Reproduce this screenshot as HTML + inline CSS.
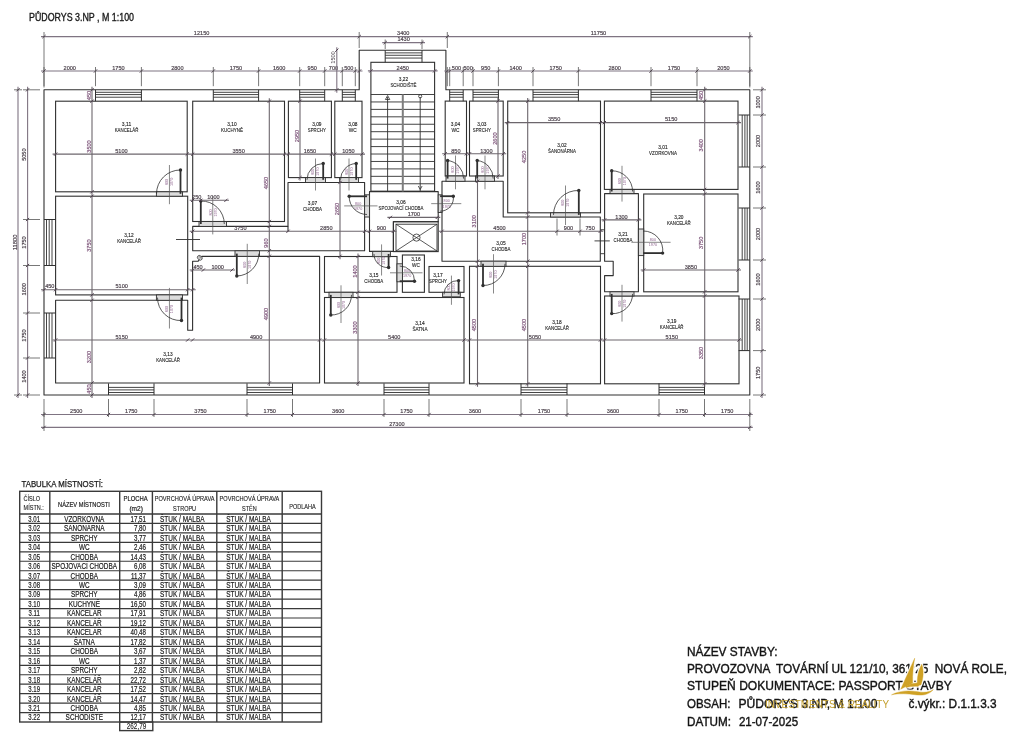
<!DOCTYPE html>
<html><head><meta charset="utf-8"><title>Pudorys 3.NP</title>
<style>
html,body{margin:0;padding:0;background:#fff;}
body{width:1024px;height:735px;overflow:hidden;font-family:"Liberation Sans",sans-serif;}
svg{display:block;will-change:transform;}
text{white-space:pre;}
</style></head><body>
<svg width="1024" height="735" viewBox="0 0 1024 735" font-family="Liberation Sans, sans-serif">
<text x="29" y="20.8" font-size="10.4" text-anchor="start" fill="#1a1a1a" stroke="#1a1a1a" stroke-width="0.35" textLength="105" lengthAdjust="spacingAndGlyphs">PŮDORYS 3.NP , M 1:100</text>
<polygon points="44,89.8 359.2,89.8 359.2,50.2 445.9,50.2 445.9,89.8 749.8,89.8 749.8,395 44,395" stroke="#303030" stroke-width="1.1" fill="none" stroke-linejoin="round"/>
<rect x="55.6" y="101.2" width="131.6" height="90.6" stroke="#303030" stroke-width="1.1" fill="none"/>
<rect x="55.6" y="196.2" width="132.1" height="98.7" stroke="#303030" stroke-width="1.1" fill="none"/>
<rect x="192.7" y="101.2" width="91.8" height="120.3" stroke="#303030" stroke-width="1.1" fill="none"/>
<rect x="288.4" y="101.2" width="43" height="76.4" stroke="#303030" stroke-width="1.1" fill="none"/>
<rect x="334.8" y="101.2" width="27.2" height="76.4" stroke="#303030" stroke-width="1.1" fill="none"/>
<rect x="370.9" y="62.3" width="63.7" height="129.1" stroke="#303030" stroke-width="1.1" fill="none"/>
<rect x="445.2" y="101.1" width="21.3" height="74.9" stroke="#303030" stroke-width="1.1" fill="none"/>
<rect x="469.5" y="101.1" width="33.7" height="74.9" stroke="#303030" stroke-width="1.1" fill="none"/>
<rect x="507.7" y="101.1" width="92.8" height="111.7" stroke="#303030" stroke-width="1.1" fill="none"/>
<rect x="604.4" y="101.1" width="133.6" height="88.3" stroke="#303030" stroke-width="1.1" fill="none"/>
<rect x="643.7" y="194" width="94.3" height="97.8" stroke="#303030" stroke-width="1.1" fill="none"/>
<rect x="604.6" y="296" width="134.4" height="87.8" stroke="#303030" stroke-width="1.1" fill="none"/>
<rect x="469.5" y="266.3" width="131" height="117.5" stroke="#303030" stroke-width="1.1" fill="none"/>
<rect x="324.5" y="297.5" width="139.5" height="85.5" stroke="#303030" stroke-width="1.1" fill="none"/>
<rect x="324.5" y="256.5" width="72.5" height="35.8" stroke="#303030" stroke-width="1.1" fill="none"/>
<rect x="402.4" y="255" width="22" height="37.3" stroke="#303030" stroke-width="1.1" fill="none"/>
<rect x="429" y="266.5" width="35" height="25.8" stroke="#303030" stroke-width="1.1" fill="none"/>
<polygon points="55.6,300.3 187.7,300.3 187.7,330.2 192.6,330.2 192.6,261.2 198.2,261.2 201.8,256.4 319.6,256.4 319.6,383 55.6,383" stroke="#303030" stroke-width="1.1" fill="none" stroke-linejoin="round"/>
<polygon points="192.7,226.4 288,226.4 288,182.5 364.6,182.5 364.6,250.8 192.7,250.8" stroke="#303030" stroke-width="1.1" fill="none" stroke-linejoin="round"/>
<line x1="288" y1="226.4" x2="288" y2="231.3" stroke="#303030" stroke-width="1.1"/>
<polygon points="369.5,191.6 438.2,191.6 438.2,221.7 393.4,221.7 393.4,251.4 369.5,251.4" stroke="#303030" stroke-width="1.1" fill="none" stroke-linejoin="round"/>
<rect x="393.4" y="221.7" width="44.8" height="29.9" stroke="#303030" stroke-width="1.1" fill="none"/>
<rect x="396" y="224.2" width="41" height="26.8" stroke="#303030" stroke-width="0.9" fill="none"/>
<line x1="396" y1="224.2" x2="437" y2="251" stroke="#303030" stroke-width="0.8"/>
<line x1="437" y1="224.2" x2="396" y2="251" stroke="#303030" stroke-width="0.8"/>
<circle cx="416.5" cy="237.6" r="3.6" stroke="#303030" stroke-width="0.8" fill="none"/>
<polygon points="442,181.3 503.2,181.3 503.2,217 600.3,217 600.3,261.2 442,261.2" stroke="#303030" stroke-width="1.1" fill="none" stroke-linejoin="round"/>
<polygon points="604.6,193.6 638.4,193.6 638.4,291.8 604.6,291.8 604.6,275.6 613.2,275.6 613.2,261.3 604.6,261.3" stroke="#303030" stroke-width="1.1" fill="none" stroke-linejoin="round"/>
<line x1="370.9" y1="94.5" x2="434.6" y2="94.5" stroke="#303030" stroke-width="0.9"/>
<line x1="370.9" y1="101.94" x2="434.6" y2="101.94" stroke="#303030" stroke-width="0.9"/>
<line x1="370.9" y1="109.38" x2="434.6" y2="109.38" stroke="#303030" stroke-width="0.9"/>
<line x1="370.9" y1="116.82" x2="434.6" y2="116.82" stroke="#303030" stroke-width="0.9"/>
<line x1="370.9" y1="124.26" x2="434.6" y2="124.26" stroke="#303030" stroke-width="0.9"/>
<line x1="370.9" y1="131.7" x2="434.6" y2="131.7" stroke="#303030" stroke-width="0.9"/>
<line x1="370.9" y1="139.14" x2="434.6" y2="139.14" stroke="#303030" stroke-width="0.9"/>
<line x1="370.9" y1="146.58" x2="434.6" y2="146.58" stroke="#303030" stroke-width="0.9"/>
<line x1="370.9" y1="154.02" x2="434.6" y2="154.02" stroke="#303030" stroke-width="0.9"/>
<line x1="370.9" y1="161.46" x2="434.6" y2="161.46" stroke="#303030" stroke-width="0.9"/>
<line x1="370.9" y1="168.9" x2="434.6" y2="168.9" stroke="#303030" stroke-width="0.9"/>
<line x1="370.9" y1="176.34" x2="434.6" y2="176.34" stroke="#303030" stroke-width="0.9"/>
<line x1="370.9" y1="183.78" x2="434.6" y2="183.78" stroke="#303030" stroke-width="0.9"/>
<line x1="370.9" y1="191.22" x2="434.6" y2="191.22" stroke="#303030" stroke-width="0.9"/>
<line x1="387.6" y1="97" x2="387.6" y2="191.4" stroke="#303030" stroke-width="0.9"/>
<line x1="420.2" y1="97" x2="420.2" y2="191.4" stroke="#303030" stroke-width="0.9"/>
<line x1="402.8" y1="94.5" x2="402.8" y2="191.4" stroke="#7e7e7e" stroke-width="2"/>
<path d="M385.4 99.5 L387.6 95.5 L389.8 99.5 Z" fill="none" stroke="#303030" stroke-width="0.8"/>
<circle cx="420.2" cy="96.3" r="1.6" fill="none" stroke="#303030" stroke-width="0.8"/>
<path d="M418.3 186 L420.2 189.5 L422.1 186" fill="none" stroke="#303030" stroke-width="0.8"/>
<line x1="95.5" y1="89.8" x2="95.5" y2="101.2" stroke="#303030" stroke-width="1"/>
<line x1="141.4" y1="89.8" x2="141.4" y2="101.2" stroke="#303030" stroke-width="1"/>
<line x1="95.5" y1="92.31" x2="141.4" y2="92.31" stroke="#303030" stroke-width="0.9"/>
<line x1="95.5" y1="94.59" x2="141.4" y2="94.59" stroke="#303030" stroke-width="0.9"/>
<line x1="95.5" y1="97.21" x2="141.4" y2="97.21" stroke="#303030" stroke-width="0.9"/>
<line x1="213.3" y1="89.8" x2="213.3" y2="101.2" stroke="#303030" stroke-width="1"/>
<line x1="258.6" y1="89.8" x2="258.6" y2="101.2" stroke="#303030" stroke-width="1"/>
<line x1="213.3" y1="92.31" x2="258.6" y2="92.31" stroke="#303030" stroke-width="0.9"/>
<line x1="213.3" y1="94.59" x2="258.6" y2="94.59" stroke="#303030" stroke-width="0.9"/>
<line x1="213.3" y1="97.21" x2="258.6" y2="97.21" stroke="#303030" stroke-width="0.9"/>
<line x1="299.7" y1="89.8" x2="299.7" y2="101.2" stroke="#303030" stroke-width="1"/>
<line x1="324.7" y1="89.8" x2="324.7" y2="101.2" stroke="#303030" stroke-width="1"/>
<line x1="299.7" y1="92.31" x2="324.7" y2="92.31" stroke="#303030" stroke-width="0.9"/>
<line x1="299.7" y1="94.59" x2="324.7" y2="94.59" stroke="#303030" stroke-width="0.9"/>
<line x1="299.7" y1="97.21" x2="324.7" y2="97.21" stroke="#303030" stroke-width="0.9"/>
<line x1="342.3" y1="89.8" x2="342.3" y2="101.2" stroke="#303030" stroke-width="1"/>
<line x1="355.3" y1="89.8" x2="355.3" y2="101.2" stroke="#303030" stroke-width="1"/>
<line x1="342.3" y1="92.31" x2="355.3" y2="92.31" stroke="#303030" stroke-width="0.9"/>
<line x1="342.3" y1="94.59" x2="355.3" y2="94.59" stroke="#303030" stroke-width="0.9"/>
<line x1="342.3" y1="97.21" x2="355.3" y2="97.21" stroke="#303030" stroke-width="0.9"/>
<line x1="449.7" y1="89.8" x2="449.7" y2="101.2" stroke="#303030" stroke-width="1"/>
<line x1="463.2" y1="89.8" x2="463.2" y2="101.2" stroke="#303030" stroke-width="1"/>
<line x1="449.7" y1="92.31" x2="463.2" y2="92.31" stroke="#303030" stroke-width="0.9"/>
<line x1="449.7" y1="94.59" x2="463.2" y2="94.59" stroke="#303030" stroke-width="0.9"/>
<line x1="449.7" y1="97.21" x2="463.2" y2="97.21" stroke="#303030" stroke-width="0.9"/>
<line x1="473" y1="89.8" x2="473" y2="101.2" stroke="#303030" stroke-width="1"/>
<line x1="498.4" y1="89.8" x2="498.4" y2="101.2" stroke="#303030" stroke-width="1"/>
<line x1="473" y1="92.31" x2="498.4" y2="92.31" stroke="#303030" stroke-width="0.9"/>
<line x1="473" y1="94.59" x2="498.4" y2="94.59" stroke="#303030" stroke-width="0.9"/>
<line x1="473" y1="97.21" x2="498.4" y2="97.21" stroke="#303030" stroke-width="0.9"/>
<line x1="533" y1="89.8" x2="533" y2="101.2" stroke="#303030" stroke-width="1"/>
<line x1="578.4" y1="89.8" x2="578.4" y2="101.2" stroke="#303030" stroke-width="1"/>
<line x1="533" y1="92.31" x2="578.4" y2="92.31" stroke="#303030" stroke-width="0.9"/>
<line x1="533" y1="94.59" x2="578.4" y2="94.59" stroke="#303030" stroke-width="0.9"/>
<line x1="533" y1="97.21" x2="578.4" y2="97.21" stroke="#303030" stroke-width="0.9"/>
<line x1="651" y1="89.8" x2="651" y2="101.2" stroke="#303030" stroke-width="1"/>
<line x1="697" y1="89.8" x2="697" y2="101.2" stroke="#303030" stroke-width="1"/>
<line x1="651" y1="92.31" x2="697" y2="92.31" stroke="#303030" stroke-width="0.9"/>
<line x1="651" y1="94.59" x2="697" y2="94.59" stroke="#303030" stroke-width="0.9"/>
<line x1="651" y1="97.21" x2="697" y2="97.21" stroke="#303030" stroke-width="0.9"/>
<line x1="385.2" y1="50.2" x2="385.2" y2="62.3" stroke="#303030" stroke-width="1"/>
<line x1="422" y1="50.2" x2="422" y2="62.3" stroke="#303030" stroke-width="1"/>
<line x1="385.2" y1="52.86" x2="422" y2="52.86" stroke="#303030" stroke-width="0.9"/>
<line x1="385.2" y1="55.28" x2="422" y2="55.28" stroke="#303030" stroke-width="0.9"/>
<line x1="385.2" y1="58.06" x2="422" y2="58.06" stroke="#303030" stroke-width="0.9"/>
<line x1="108.5" y1="383.4" x2="108.5" y2="395" stroke="#303030" stroke-width="1"/>
<line x1="154" y1="383.4" x2="154" y2="395" stroke="#303030" stroke-width="1"/>
<line x1="108.5" y1="387.4" x2="154" y2="387.4" stroke="#303030" stroke-width="0.9"/>
<line x1="108.5" y1="389.9" x2="154" y2="389.9" stroke="#303030" stroke-width="0.9"/>
<line x1="108.5" y1="392.5" x2="154" y2="392.5" stroke="#303030" stroke-width="0.9"/>
<line x1="247" y1="383.4" x2="247" y2="395" stroke="#303030" stroke-width="1"/>
<line x1="292.5" y1="383.4" x2="292.5" y2="395" stroke="#303030" stroke-width="1"/>
<line x1="247" y1="387.4" x2="292.5" y2="387.4" stroke="#303030" stroke-width="0.9"/>
<line x1="247" y1="389.9" x2="292.5" y2="389.9" stroke="#303030" stroke-width="0.9"/>
<line x1="247" y1="392.5" x2="292.5" y2="392.5" stroke="#303030" stroke-width="0.9"/>
<line x1="384" y1="383.4" x2="384" y2="395" stroke="#303030" stroke-width="1"/>
<line x1="429" y1="383.4" x2="429" y2="395" stroke="#303030" stroke-width="1"/>
<line x1="384" y1="387.4" x2="429" y2="387.4" stroke="#303030" stroke-width="0.9"/>
<line x1="384" y1="389.9" x2="429" y2="389.9" stroke="#303030" stroke-width="0.9"/>
<line x1="384" y1="392.5" x2="429" y2="392.5" stroke="#303030" stroke-width="0.9"/>
<line x1="521" y1="383.4" x2="521" y2="395" stroke="#303030" stroke-width="1"/>
<line x1="567" y1="383.4" x2="567" y2="395" stroke="#303030" stroke-width="1"/>
<line x1="521" y1="387.4" x2="567" y2="387.4" stroke="#303030" stroke-width="0.9"/>
<line x1="521" y1="389.9" x2="567" y2="389.9" stroke="#303030" stroke-width="0.9"/>
<line x1="521" y1="392.5" x2="567" y2="392.5" stroke="#303030" stroke-width="0.9"/>
<line x1="659" y1="383.4" x2="659" y2="395" stroke="#303030" stroke-width="1"/>
<line x1="704.5" y1="383.4" x2="704.5" y2="395" stroke="#303030" stroke-width="1"/>
<line x1="659" y1="387.4" x2="704.5" y2="387.4" stroke="#303030" stroke-width="0.9"/>
<line x1="659" y1="389.9" x2="704.5" y2="389.9" stroke="#303030" stroke-width="0.9"/>
<line x1="659" y1="392.5" x2="704.5" y2="392.5" stroke="#303030" stroke-width="0.9"/>
<line x1="738.6" y1="115" x2="749.8" y2="115" stroke="#303030" stroke-width="1"/>
<line x1="738.6" y1="167" x2="749.8" y2="167" stroke="#303030" stroke-width="1"/>
<line x1="742.2" y1="115" x2="742.2" y2="167" stroke="#303030" stroke-width="0.9"/>
<line x1="744.9" y1="115" x2="744.9" y2="167" stroke="#303030" stroke-width="0.9"/>
<line x1="747.2" y1="115" x2="747.2" y2="167" stroke="#303030" stroke-width="0.9"/>
<line x1="738.6" y1="208" x2="749.8" y2="208" stroke="#303030" stroke-width="1"/>
<line x1="738.6" y1="260" x2="749.8" y2="260" stroke="#303030" stroke-width="1"/>
<line x1="742.2" y1="208" x2="742.2" y2="260" stroke="#303030" stroke-width="0.9"/>
<line x1="744.9" y1="208" x2="744.9" y2="260" stroke="#303030" stroke-width="0.9"/>
<line x1="747.2" y1="208" x2="747.2" y2="260" stroke="#303030" stroke-width="0.9"/>
<line x1="738.6" y1="299" x2="749.8" y2="299" stroke="#303030" stroke-width="1"/>
<line x1="738.6" y1="350.6" x2="749.8" y2="350.6" stroke="#303030" stroke-width="1"/>
<line x1="742.2" y1="299" x2="742.2" y2="350.6" stroke="#303030" stroke-width="0.9"/>
<line x1="744.9" y1="299" x2="744.9" y2="350.6" stroke="#303030" stroke-width="0.9"/>
<line x1="747.2" y1="299" x2="747.2" y2="350.6" stroke="#303030" stroke-width="0.9"/>
<line x1="44" y1="219.5" x2="55.6" y2="219.5" stroke="#303030" stroke-width="1"/>
<line x1="44" y1="265.5" x2="55.6" y2="265.5" stroke="#303030" stroke-width="1"/>
<line x1="46.5" y1="219.5" x2="46.5" y2="265.5" stroke="#303030" stroke-width="0.9"/>
<line x1="49.2" y1="219.5" x2="49.2" y2="265.5" stroke="#303030" stroke-width="0.9"/>
<line x1="52" y1="219.5" x2="52" y2="265.5" stroke="#303030" stroke-width="0.9"/>
<line x1="44" y1="313" x2="55.6" y2="313" stroke="#303030" stroke-width="1"/>
<line x1="44" y1="358" x2="55.6" y2="358" stroke="#303030" stroke-width="1"/>
<line x1="46.5" y1="313" x2="46.5" y2="358" stroke="#303030" stroke-width="0.9"/>
<line x1="49.2" y1="313" x2="49.2" y2="358" stroke="#303030" stroke-width="0.9"/>
<line x1="52" y1="313" x2="52" y2="358" stroke="#303030" stroke-width="0.9"/>
<rect x="156.4" y="191.8" width="26.1" height="4.4" stroke="#303030" stroke-width="0.9" fill="#dcdcdc"/>
<line x1="169.45" y1="165" x2="169.45" y2="204.2" stroke="#555" stroke-width="0.7"/>
<text x="168.25" y="181.9" font-size="4.2" text-anchor="middle" fill="#8d628d" textLength="6.2" lengthAdjust="spacingAndGlyphs" transform="rotate(-90 168.25 181.9)">800</text>
<text x="173.25" y="181.9" font-size="4.2" text-anchor="middle" fill="#8d628d" textLength="8.2" lengthAdjust="spacingAndGlyphs" transform="rotate(-90 173.25 181.9)">1970</text>
<path d="M180.5 170 A23.8 23.8 0 0 0 156.5 193.8" stroke="#303030" stroke-width="0.8" fill="none"/>
<line x1="180.5" y1="193.8" x2="180.5" y2="170" stroke="#303030" stroke-width="1.8"/>
<circle cx="180.5" cy="170" r="1.7" fill="#303030"/>
<rect x="199" y="221.5" width="27.5" height="4.9" stroke="#303030" stroke-width="0.9" fill="#dcdcdc"/>
<line x1="212.75" y1="196" x2="212.75" y2="234.4" stroke="#555" stroke-width="0.7"/>
<text x="211.55" y="212.5" font-size="4.2" text-anchor="middle" fill="#8d628d" textLength="6.2" lengthAdjust="spacingAndGlyphs" transform="rotate(-90 211.55 212.5)">800</text>
<text x="216.55" y="212.5" font-size="4.2" text-anchor="middle" fill="#8d628d" textLength="8.2" lengthAdjust="spacingAndGlyphs" transform="rotate(-90 216.55 212.5)">1970</text>
<path d="M200.8 201 A23 23 0 0 1 224.3 224" stroke="#303030" stroke-width="0.8" fill="none"/>
<line x1="200.8" y1="224" x2="200.8" y2="201" stroke="#303030" stroke-width="1.8"/>
<circle cx="200.8" cy="201" r="1.7" fill="#303030"/>
<rect x="235" y="250.8" width="24.5" height="5.5" stroke="#303030" stroke-width="0.9" fill="#dcdcdc"/>
<line x1="247.25" y1="243.8" x2="247.25" y2="284" stroke="#555" stroke-width="0.7"/>
<text x="246.05" y="264.8" font-size="4.2" text-anchor="middle" fill="#8d628d" textLength="6.2" lengthAdjust="spacingAndGlyphs" transform="rotate(-90 246.05 264.8)">800</text>
<text x="251.05" y="264.8" font-size="4.2" text-anchor="middle" fill="#8d628d" textLength="8.2" lengthAdjust="spacingAndGlyphs" transform="rotate(-90 251.05 264.8)">1970</text>
<path d="M236.8 276 A22.4 22.4 0 0 0 258.8 253.6" stroke="#303030" stroke-width="0.8" fill="none"/>
<line x1="236.8" y1="253.6" x2="236.8" y2="276" stroke="#303030" stroke-width="1.8"/>
<circle cx="236.8" cy="276" r="1.7" fill="#303030"/>
<rect x="156.4" y="294.9" width="26.1" height="5.4" stroke="#303030" stroke-width="0.9" fill="#dcdcdc"/>
<line x1="169.45" y1="287.9" x2="169.45" y2="328.5" stroke="#555" stroke-width="0.7"/>
<text x="168.25" y="309.05" font-size="4.2" text-anchor="middle" fill="#8d628d" textLength="6.2" lengthAdjust="spacingAndGlyphs" transform="rotate(-90 168.25 309.05)">800</text>
<text x="173.25" y="309.05" font-size="4.2" text-anchor="middle" fill="#8d628d" textLength="8.2" lengthAdjust="spacingAndGlyphs" transform="rotate(-90 173.25 309.05)">1970</text>
<path d="M181.5 320.5 A22.9 22.9 0 0 1 157.5 297.6" stroke="#303030" stroke-width="0.8" fill="none"/>
<line x1="181.5" y1="297.6" x2="181.5" y2="320.5" stroke="#303030" stroke-width="1.8"/>
<circle cx="181.5" cy="320.5" r="1.7" fill="#303030"/>
<rect x="305.5" y="177.6" width="20" height="4.9" stroke="#303030" stroke-width="0.9" fill="#dcdcdc"/>
<line x1="315.5" y1="158.5" x2="315.5" y2="190.5" stroke="#555" stroke-width="0.7"/>
<text x="314.3" y="171.65" font-size="4.2" text-anchor="middle" fill="#8d628d" textLength="6.2" lengthAdjust="spacingAndGlyphs" transform="rotate(-90 314.3 171.65)">800</text>
<text x="319.3" y="171.65" font-size="4.2" text-anchor="middle" fill="#8d628d" textLength="8.2" lengthAdjust="spacingAndGlyphs" transform="rotate(-90 319.3 171.65)">1970</text>
<path d="M323.2 163.5 A16.3 16.3 0 0 0 307 179.8" stroke="#303030" stroke-width="0.8" fill="none"/>
<line x1="323.2" y1="179.8" x2="323.2" y2="163.5" stroke="#303030" stroke-width="1.8"/>
<circle cx="323.2" cy="163.5" r="1.7" fill="#303030"/>
<rect x="339.5" y="177.6" width="19" height="4.9" stroke="#303030" stroke-width="0.9" fill="#dcdcdc"/>
<line x1="349" y1="158.5" x2="349" y2="190.5" stroke="#555" stroke-width="0.7"/>
<text x="347.8" y="171.65" font-size="4.2" text-anchor="middle" fill="#8d628d" textLength="6.2" lengthAdjust="spacingAndGlyphs" transform="rotate(-90 347.8 171.65)">800</text>
<text x="352.8" y="171.65" font-size="4.2" text-anchor="middle" fill="#8d628d" textLength="8.2" lengthAdjust="spacingAndGlyphs" transform="rotate(-90 352.8 171.65)">1970</text>
<path d="M356.2 163.5 A16.3 16.3 0 0 0 340.5 179.8" stroke="#303030" stroke-width="0.8" fill="none"/>
<line x1="356.2" y1="179.8" x2="356.2" y2="163.5" stroke="#303030" stroke-width="1.8"/>
<circle cx="356.2" cy="163.5" r="1.7" fill="#303030"/>
<rect x="446" y="176" width="19" height="5.3" stroke="#303030" stroke-width="0.9" fill="#dcdcdc"/>
<line x1="455.5" y1="155.5" x2="455.5" y2="189.3" stroke="#555" stroke-width="0.7"/>
<text x="454.3" y="169.55" font-size="4.2" text-anchor="middle" fill="#8d628d" textLength="6.2" lengthAdjust="spacingAndGlyphs" transform="rotate(-90 454.3 169.55)">800</text>
<text x="459.3" y="169.55" font-size="4.2" text-anchor="middle" fill="#8d628d" textLength="8.2" lengthAdjust="spacingAndGlyphs" transform="rotate(-90 459.3 169.55)">1970</text>
<path d="M447.6 160.5 A18.1 18.1 0 0 1 463.6 178.6" stroke="#303030" stroke-width="0.8" fill="none"/>
<line x1="447.6" y1="178.6" x2="447.6" y2="160.5" stroke="#303030" stroke-width="1.8"/>
<circle cx="447.6" cy="160.5" r="1.7" fill="#303030"/>
<rect x="475.5" y="176" width="19" height="5.3" stroke="#303030" stroke-width="0.9" fill="#dcdcdc"/>
<line x1="485" y1="155.5" x2="485" y2="189.3" stroke="#555" stroke-width="0.7"/>
<text x="483.8" y="169.55" font-size="4.2" text-anchor="middle" fill="#8d628d" textLength="6.2" lengthAdjust="spacingAndGlyphs" transform="rotate(-90 483.8 169.55)">800</text>
<text x="488.8" y="169.55" font-size="4.2" text-anchor="middle" fill="#8d628d" textLength="8.2" lengthAdjust="spacingAndGlyphs" transform="rotate(-90 488.8 169.55)">1970</text>
<path d="M477.2 160.5 A18.1 18.1 0 0 1 493.2 178.6" stroke="#303030" stroke-width="0.8" fill="none"/>
<line x1="477.2" y1="178.6" x2="477.2" y2="160.5" stroke="#303030" stroke-width="1.8"/>
<circle cx="477.2" cy="160.5" r="1.7" fill="#303030"/>
<rect x="364.6" y="194.8" width="4.9" height="22.2" stroke="#303030" stroke-width="0.9" fill="#dcdcdc"/>
<line x1="344.2" y1="205.9" x2="377.5" y2="205.9" stroke="#555" stroke-width="0.7"/>
<text x="358.1" y="204.7" font-size="4.2" text-anchor="middle" fill="#8d628d" textLength="6.2" lengthAdjust="spacingAndGlyphs">800</text>
<text x="358.1" y="209.9" font-size="4.2" text-anchor="middle" fill="#8d628d" textLength="8.2" lengthAdjust="spacingAndGlyphs">1970</text>
<path d="M349.2 196.3 A17.8 17.8 0 0 0 367 214.5" stroke="#303030" stroke-width="0.8" fill="none"/>
<line x1="367" y1="196.3" x2="349.2" y2="196.3" stroke="#303030" stroke-width="1.8"/>
<circle cx="349.2" cy="196.3" r="1.7" fill="#303030"/>
<rect x="438.2" y="194.8" width="3.8" height="17.7" stroke="#303030" stroke-width="0.9" fill="#dcdcdc"/>
<line x1="431.2" y1="203.65" x2="461.3" y2="203.65" stroke="#555" stroke-width="0.7"/>
<text x="446.7" y="202.45" font-size="4.2" text-anchor="middle" fill="#8d628d" textLength="6.2" lengthAdjust="spacingAndGlyphs">800</text>
<text x="446.7" y="207.65" font-size="4.2" text-anchor="middle" fill="#8d628d" textLength="8.2" lengthAdjust="spacingAndGlyphs">1970</text>
<path d="M453.3 196.2 A13.2 13.2 0 0 1 440.1 211.2" stroke="#303030" stroke-width="0.8" fill="none"/>
<line x1="440.1" y1="196.2" x2="453.3" y2="196.2" stroke="#303030" stroke-width="1.8"/>
<circle cx="453.3" cy="196.2" r="1.7" fill="#303030"/>
<rect x="550.5" y="212.8" width="30" height="4.2" stroke="#303030" stroke-width="0.9" fill="#dcdcdc"/>
<line x1="565.5" y1="185.5" x2="565.5" y2="225" stroke="#555" stroke-width="0.7"/>
<text x="564.3" y="202.7" font-size="4.2" text-anchor="middle" fill="#8d628d" textLength="6.2" lengthAdjust="spacingAndGlyphs" transform="rotate(-90 564.3 202.7)">800</text>
<text x="569.3" y="202.7" font-size="4.2" text-anchor="middle" fill="#8d628d" textLength="8.2" lengthAdjust="spacingAndGlyphs" transform="rotate(-90 569.3 202.7)">1970</text>
<path d="M578.8 190.5 A24.4 24.4 0 0 0 553.5 214.9" stroke="#303030" stroke-width="0.8" fill="none"/>
<line x1="578.8" y1="214.9" x2="578.8" y2="190.5" stroke="#303030" stroke-width="1.8"/>
<circle cx="578.8" cy="190.5" r="1.7" fill="#303030"/>
<rect x="610" y="189.4" width="24" height="4.2" stroke="#303030" stroke-width="0.9" fill="#dcdcdc"/>
<line x1="622" y1="165.8" x2="622" y2="201.6" stroke="#555" stroke-width="0.7"/>
<text x="620.8" y="181.15" font-size="4.2" text-anchor="middle" fill="#8d628d" textLength="6.2" lengthAdjust="spacingAndGlyphs" transform="rotate(-90 620.8 181.15)">800</text>
<text x="625.8" y="181.15" font-size="4.2" text-anchor="middle" fill="#8d628d" textLength="8.2" lengthAdjust="spacingAndGlyphs" transform="rotate(-90 625.8 181.15)">1970</text>
<path d="M611.7 170.8 A20.7 20.7 0 0 1 632.6 191.5" stroke="#303030" stroke-width="0.8" fill="none"/>
<line x1="611.7" y1="191.5" x2="611.7" y2="170.8" stroke="#303030" stroke-width="1.8"/>
<circle cx="611.7" cy="170.8" r="1.7" fill="#303030"/>
<rect x="638.4" y="229" width="5.3" height="26.6" stroke="#303030" stroke-width="0.9" fill="#dcdcdc"/>
<line x1="631.4" y1="242.3" x2="670.6" y2="242.3" stroke="#555" stroke-width="0.7"/>
<text x="652.9" y="241.1" font-size="4.2" text-anchor="middle" fill="#8d628d" textLength="6.2" lengthAdjust="spacingAndGlyphs">800</text>
<text x="652.9" y="246.3" font-size="4.2" text-anchor="middle" fill="#8d628d" textLength="8.2" lengthAdjust="spacingAndGlyphs">1970</text>
<path d="M662.6 253.1 A19.4 19.4 0 0 0 643.2 231" stroke="#303030" stroke-width="0.8" fill="none"/>
<line x1="643.2" y1="253.1" x2="662.6" y2="253.1" stroke="#303030" stroke-width="1.8"/>
<circle cx="662.6" cy="253.1" r="1.7" fill="#303030"/>
<rect x="610" y="291.8" width="24" height="4.2" stroke="#303030" stroke-width="0.9" fill="#dcdcdc"/>
<line x1="622" y1="284.8" x2="622" y2="321.6" stroke="#555" stroke-width="0.7"/>
<text x="620.8" y="303.75" font-size="4.2" text-anchor="middle" fill="#8d628d" textLength="6.2" lengthAdjust="spacingAndGlyphs" transform="rotate(-90 620.8 303.75)">800</text>
<text x="625.8" y="303.75" font-size="4.2" text-anchor="middle" fill="#8d628d" textLength="8.2" lengthAdjust="spacingAndGlyphs" transform="rotate(-90 625.8 303.75)">1970</text>
<path d="M611.7 313.6 A19.7 19.7 0 0 0 632.6 293.9" stroke="#303030" stroke-width="0.8" fill="none"/>
<line x1="611.7" y1="293.9" x2="611.7" y2="313.6" stroke="#303030" stroke-width="1.8"/>
<circle cx="611.7" cy="313.6" r="1.7" fill="#303030"/>
<rect x="329" y="292.3" width="24" height="5.2" stroke="#303030" stroke-width="0.9" fill="#dcdcdc"/>
<line x1="341" y1="285.3" x2="341" y2="323" stroke="#555" stroke-width="0.7"/>
<text x="339.8" y="304.95" font-size="4.2" text-anchor="middle" fill="#8d628d" textLength="6.2" lengthAdjust="spacingAndGlyphs" transform="rotate(-90 339.8 304.95)">800</text>
<text x="344.8" y="304.95" font-size="4.2" text-anchor="middle" fill="#8d628d" textLength="8.2" lengthAdjust="spacingAndGlyphs" transform="rotate(-90 344.8 304.95)">1970</text>
<path d="M330.8 315 A20.1 20.1 0 0 0 351.5 294.9" stroke="#303030" stroke-width="0.8" fill="none"/>
<line x1="330.8" y1="294.9" x2="330.8" y2="315" stroke="#303030" stroke-width="1.8"/>
<circle cx="330.8" cy="315" r="1.7" fill="#303030"/>
<rect x="372.7" y="251.4" width="17.7" height="5.3" stroke="#303030" stroke-width="0.9" fill="#dcdcdc"/>
<line x1="381.55" y1="244.4" x2="381.55" y2="275.5" stroke="#555" stroke-width="0.7"/>
<text x="380.35" y="260.75" font-size="4.2" text-anchor="middle" fill="#8d628d" textLength="6.2" lengthAdjust="spacingAndGlyphs" transform="rotate(-90 380.35 260.75)">800</text>
<text x="385.35" y="260.75" font-size="4.2" text-anchor="middle" fill="#8d628d" textLength="8.2" lengthAdjust="spacingAndGlyphs" transform="rotate(-90 385.35 260.75)">1970</text>
<path d="M388.6 267.5 A13.5 13.5 0 0 1 374 254" stroke="#303030" stroke-width="0.8" fill="none"/>
<line x1="388.6" y1="254" x2="388.6" y2="267.5" stroke="#303030" stroke-width="1.8"/>
<circle cx="388.6" cy="267.5" r="1.7" fill="#303030"/>
<rect x="397" y="263.8" width="5.4" height="18" stroke="#303030" stroke-width="0.9" fill="#dcdcdc"/>
<line x1="390" y1="272.8" x2="422.5" y2="272.8" stroke="#555" stroke-width="0.7"/>
<text x="407.1" y="271.6" font-size="4.2" text-anchor="middle" fill="#8d628d" textLength="6.2" lengthAdjust="spacingAndGlyphs">800</text>
<text x="407.1" y="276.8" font-size="4.2" text-anchor="middle" fill="#8d628d" textLength="8.2" lengthAdjust="spacingAndGlyphs">1970</text>
<path d="M414.5 281.2 A14.8 14.8 0 0 0 399.7 266" stroke="#303030" stroke-width="0.8" fill="none"/>
<line x1="399.7" y1="281.2" x2="414.5" y2="281.2" stroke="#303030" stroke-width="1.8"/>
<circle cx="414.5" cy="281.2" r="1.7" fill="#303030"/>
<rect x="442.6" y="292.3" width="17.7" height="4.5" stroke="#303030" stroke-width="0.9" fill="#dcdcdc"/>
<line x1="451.45" y1="275.6" x2="451.45" y2="304.8" stroke="#555" stroke-width="0.7"/>
<text x="450.25" y="287.5" font-size="4.2" text-anchor="middle" fill="#8d628d" textLength="6.2" lengthAdjust="spacingAndGlyphs" transform="rotate(-90 450.25 287.5)">800</text>
<text x="455.25" y="287.5" font-size="4.2" text-anchor="middle" fill="#8d628d" textLength="8.2" lengthAdjust="spacingAndGlyphs" transform="rotate(-90 455.25 287.5)">1970</text>
<path d="M458.6 280.6 A13.8 13.8 0 0 0 444 294.4" stroke="#303030" stroke-width="0.8" fill="none"/>
<line x1="458.6" y1="294.4" x2="458.6" y2="280.6" stroke="#303030" stroke-width="1.8"/>
<circle cx="458.6" cy="280.6" r="1.7" fill="#303030"/>
<rect x="481" y="261.2" width="25" height="5.1" stroke="#303030" stroke-width="0.9" fill="#dcdcdc"/>
<line x1="493.5" y1="254.2" x2="493.5" y2="293.5" stroke="#555" stroke-width="0.7"/>
<text x="492.3" y="274.65" font-size="4.2" text-anchor="middle" fill="#8d628d" textLength="6.2" lengthAdjust="spacingAndGlyphs" transform="rotate(-90 492.3 274.65)">800</text>
<text x="497.3" y="274.65" font-size="4.2" text-anchor="middle" fill="#8d628d" textLength="8.2" lengthAdjust="spacingAndGlyphs" transform="rotate(-90 497.3 274.65)">1970</text>
<path d="M483 285.5 A21.7 21.7 0 0 0 505 263.8" stroke="#303030" stroke-width="0.8" fill="none"/>
<line x1="483" y1="263.8" x2="483" y2="285.5" stroke="#303030" stroke-width="1.8"/>
<circle cx="483" cy="285.5" r="1.7" fill="#303030"/>
<line x1="176" y1="239.5" x2="200" y2="239.5" stroke="#303030" stroke-width="0.9"/>
<line x1="594.5" y1="240.9" x2="609.8" y2="240.9" stroke="#303030" stroke-width="0.9"/>
<line x1="600.3" y1="229.8" x2="604.6" y2="229.8" stroke="#303030" stroke-width="0.9"/>
<line x1="600.3" y1="253.7" x2="604.6" y2="253.7" stroke="#303030" stroke-width="0.9"/>
<ellipse cx="199.8" cy="257.8" rx="2.6" ry="2.0" transform="rotate(40 199.8 257.8)" stroke="#303030" stroke-width="0.8" fill="#fff"/>
<line x1="198.4" y1="256.8" x2="200.6" y2="259.1" stroke="#303030" stroke-width="0.6"/>
<line x1="199.3" y1="256.1" x2="201.4" y2="258.3" stroke="#303030" stroke-width="0.6"/>
<line x1="41" y1="36.6" x2="752.8" y2="36.6" stroke="#7f7482" stroke-width="1.1"/>
<line x1="42.4" y1="38.2" x2="45.6" y2="35" stroke="#4a3a4a" stroke-width="1"/>
<line x1="357.6" y1="38.2" x2="360.8" y2="35" stroke="#4a3a4a" stroke-width="1"/>
<line x1="445.7" y1="38.2" x2="448.9" y2="35" stroke="#4a3a4a" stroke-width="1"/>
<line x1="748.2" y1="38.2" x2="751.4" y2="35" stroke="#4a3a4a" stroke-width="1"/>
<text x="201.6" y="35.3" font-size="6.2" text-anchor="middle" fill="#4a404a" stroke="#4a404a" stroke-width="0.18" textLength="15.5" lengthAdjust="spacingAndGlyphs">12150</text>
<text x="403.25" y="35.3" font-size="6.2" text-anchor="middle" fill="#4a404a" stroke="#4a404a" stroke-width="0.18" textLength="12.4" lengthAdjust="spacingAndGlyphs">3400</text>
<text x="598.55" y="35.3" font-size="6.2" text-anchor="middle" fill="#4a404a" stroke="#4a404a" stroke-width="0.18" textLength="15.5" lengthAdjust="spacingAndGlyphs">11750</text>
<line x1="44" y1="32" x2="44" y2="87.5" stroke="#555" stroke-width="0.8"/>
<line x1="749.8" y1="32" x2="749.8" y2="87.5" stroke="#555" stroke-width="0.8"/>
<line x1="359.2" y1="32" x2="359.2" y2="48" stroke="#555" stroke-width="0.8"/>
<line x1="447.3" y1="32" x2="447.3" y2="48" stroke="#555" stroke-width="0.8"/>
<line x1="382.2" y1="42.6" x2="425" y2="42.6" stroke="#7f7482" stroke-width="1.1"/>
<line x1="383.6" y1="44.2" x2="386.8" y2="41" stroke="#4a3a4a" stroke-width="1"/>
<line x1="420.4" y1="44.2" x2="423.6" y2="41" stroke="#4a3a4a" stroke-width="1"/>
<text x="403.6" y="41.3" font-size="6.2" text-anchor="middle" fill="#4a404a" stroke="#4a404a" stroke-width="0.18" textLength="12.4" lengthAdjust="spacingAndGlyphs">1430</text>
<line x1="385.2" y1="39.5" x2="385.2" y2="49" stroke="#555" stroke-width="0.8"/>
<line x1="422" y1="39.5" x2="422" y2="49" stroke="#555" stroke-width="0.8"/>
<line x1="41" y1="71" x2="362.5" y2="71" stroke="#7f7482" stroke-width="1.1"/>
<line x1="42.4" y1="72.6" x2="45.6" y2="69.4" stroke="#4a3a4a" stroke-width="1"/>
<line x1="44" y1="67" x2="44" y2="86.2" stroke="#555" stroke-width="0.8"/>
<line x1="93.9" y1="72.6" x2="97.1" y2="69.4" stroke="#4a3a4a" stroke-width="1"/>
<line x1="95.5" y1="67" x2="95.5" y2="86.2" stroke="#555" stroke-width="0.8"/>
<line x1="139.8" y1="72.6" x2="143" y2="69.4" stroke="#4a3a4a" stroke-width="1"/>
<line x1="141.4" y1="67" x2="141.4" y2="86.2" stroke="#555" stroke-width="0.8"/>
<line x1="211.7" y1="72.6" x2="214.9" y2="69.4" stroke="#4a3a4a" stroke-width="1"/>
<line x1="213.3" y1="67" x2="213.3" y2="86.2" stroke="#555" stroke-width="0.8"/>
<line x1="257" y1="72.6" x2="260.2" y2="69.4" stroke="#4a3a4a" stroke-width="1"/>
<line x1="258.6" y1="67" x2="258.6" y2="86.2" stroke="#555" stroke-width="0.8"/>
<line x1="298.1" y1="72.6" x2="301.3" y2="69.4" stroke="#4a3a4a" stroke-width="1"/>
<line x1="299.7" y1="67" x2="299.7" y2="86.2" stroke="#555" stroke-width="0.8"/>
<line x1="323.1" y1="72.6" x2="326.3" y2="69.4" stroke="#4a3a4a" stroke-width="1"/>
<line x1="324.7" y1="67" x2="324.7" y2="86.2" stroke="#555" stroke-width="0.8"/>
<line x1="340.7" y1="72.6" x2="343.9" y2="69.4" stroke="#4a3a4a" stroke-width="1"/>
<line x1="342.3" y1="67" x2="342.3" y2="86.2" stroke="#555" stroke-width="0.8"/>
<line x1="353.7" y1="72.6" x2="356.9" y2="69.4" stroke="#4a3a4a" stroke-width="1"/>
<line x1="355.3" y1="67" x2="355.3" y2="86.2" stroke="#555" stroke-width="0.8"/>
<line x1="357.9" y1="72.6" x2="361.1" y2="69.4" stroke="#4a3a4a" stroke-width="1"/>
<line x1="359.5" y1="67" x2="359.5" y2="86.2" stroke="#555" stroke-width="0.8"/>
<text x="69.75" y="69.7" font-size="6.2" text-anchor="middle" fill="#4a404a" stroke="#4a404a" stroke-width="0.18" textLength="12.4" lengthAdjust="spacingAndGlyphs">2000</text>
<text x="118.45" y="69.7" font-size="6.2" text-anchor="middle" fill="#4a404a" stroke="#4a404a" stroke-width="0.18" textLength="12.4" lengthAdjust="spacingAndGlyphs">1750</text>
<text x="177.35" y="69.7" font-size="6.2" text-anchor="middle" fill="#4a404a" stroke="#4a404a" stroke-width="0.18" textLength="12.4" lengthAdjust="spacingAndGlyphs">2800</text>
<text x="235.95" y="69.7" font-size="6.2" text-anchor="middle" fill="#4a404a" stroke="#4a404a" stroke-width="0.18" textLength="12.4" lengthAdjust="spacingAndGlyphs">1750</text>
<text x="279.15" y="69.7" font-size="6.2" text-anchor="middle" fill="#4a404a" stroke="#4a404a" stroke-width="0.18" textLength="12.4" lengthAdjust="spacingAndGlyphs">1600</text>
<text x="312.2" y="69.7" font-size="6.2" text-anchor="middle" fill="#4a404a" stroke="#4a404a" stroke-width="0.18" textLength="9.3" lengthAdjust="spacingAndGlyphs">950</text>
<text x="333.5" y="69.7" font-size="6.2" text-anchor="middle" fill="#4a404a" stroke="#4a404a" stroke-width="0.18" textLength="9.3" lengthAdjust="spacingAndGlyphs">700</text>
<text x="348.8" y="69.7" font-size="6.2" text-anchor="middle" fill="#4a404a" stroke="#4a404a" stroke-width="0.18" textLength="9.3" lengthAdjust="spacingAndGlyphs">500</text>
<line x1="444.3" y1="71" x2="752.8" y2="71" stroke="#7f7482" stroke-width="1.1"/>
<line x1="445.7" y1="72.6" x2="448.9" y2="69.4" stroke="#4a3a4a" stroke-width="1"/>
<line x1="447.3" y1="67" x2="447.3" y2="86.2" stroke="#555" stroke-width="0.8"/>
<line x1="448.1" y1="72.6" x2="451.3" y2="69.4" stroke="#4a3a4a" stroke-width="1"/>
<line x1="449.7" y1="67" x2="449.7" y2="86.2" stroke="#555" stroke-width="0.8"/>
<line x1="461.6" y1="72.6" x2="464.8" y2="69.4" stroke="#4a3a4a" stroke-width="1"/>
<line x1="463.2" y1="67" x2="463.2" y2="86.2" stroke="#555" stroke-width="0.8"/>
<line x1="471.4" y1="72.6" x2="474.6" y2="69.4" stroke="#4a3a4a" stroke-width="1"/>
<line x1="473" y1="67" x2="473" y2="86.2" stroke="#555" stroke-width="0.8"/>
<line x1="496.8" y1="72.6" x2="500" y2="69.4" stroke="#4a3a4a" stroke-width="1"/>
<line x1="498.4" y1="67" x2="498.4" y2="86.2" stroke="#555" stroke-width="0.8"/>
<line x1="531.4" y1="72.6" x2="534.6" y2="69.4" stroke="#4a3a4a" stroke-width="1"/>
<line x1="533" y1="67" x2="533" y2="86.2" stroke="#555" stroke-width="0.8"/>
<line x1="576.8" y1="72.6" x2="580" y2="69.4" stroke="#4a3a4a" stroke-width="1"/>
<line x1="578.4" y1="67" x2="578.4" y2="86.2" stroke="#555" stroke-width="0.8"/>
<line x1="649.4" y1="72.6" x2="652.6" y2="69.4" stroke="#4a3a4a" stroke-width="1"/>
<line x1="651" y1="67" x2="651" y2="86.2" stroke="#555" stroke-width="0.8"/>
<line x1="695.4" y1="72.6" x2="698.6" y2="69.4" stroke="#4a3a4a" stroke-width="1"/>
<line x1="697" y1="67" x2="697" y2="86.2" stroke="#555" stroke-width="0.8"/>
<line x1="748.2" y1="72.6" x2="751.4" y2="69.4" stroke="#4a3a4a" stroke-width="1"/>
<line x1="749.8" y1="67" x2="749.8" y2="86.2" stroke="#555" stroke-width="0.8"/>
<text x="456.45" y="69.7" font-size="6.2" text-anchor="middle" fill="#4a404a" stroke="#4a404a" stroke-width="0.18" textLength="9.3" lengthAdjust="spacingAndGlyphs">500</text>
<text x="468.1" y="69.7" font-size="6.2" text-anchor="middle" fill="#4a404a" stroke="#4a404a" stroke-width="0.18" textLength="9.3" lengthAdjust="spacingAndGlyphs">500</text>
<text x="485.7" y="69.7" font-size="6.2" text-anchor="middle" fill="#4a404a" stroke="#4a404a" stroke-width="0.18" textLength="9.3" lengthAdjust="spacingAndGlyphs">950</text>
<text x="515.7" y="69.7" font-size="6.2" text-anchor="middle" fill="#4a404a" stroke="#4a404a" stroke-width="0.18" textLength="12.4" lengthAdjust="spacingAndGlyphs">1400</text>
<text x="555.7" y="69.7" font-size="6.2" text-anchor="middle" fill="#4a404a" stroke="#4a404a" stroke-width="0.18" textLength="12.4" lengthAdjust="spacingAndGlyphs">1750</text>
<text x="614.7" y="69.7" font-size="6.2" text-anchor="middle" fill="#4a404a" stroke="#4a404a" stroke-width="0.18" textLength="12.4" lengthAdjust="spacingAndGlyphs">2800</text>
<text x="674" y="69.7" font-size="6.2" text-anchor="middle" fill="#4a404a" stroke="#4a404a" stroke-width="0.18" textLength="12.4" lengthAdjust="spacingAndGlyphs">1750</text>
<text x="723.4" y="69.7" font-size="6.2" text-anchor="middle" fill="#4a404a" stroke="#4a404a" stroke-width="0.18" textLength="12.4" lengthAdjust="spacingAndGlyphs">2050</text>
<line x1="336.8" y1="47.2" x2="336.8" y2="92.8" stroke="#7f7482" stroke-width="1.1"/>
<line x1="335.2" y1="51.8" x2="338.4" y2="48.6" stroke="#4a3a4a" stroke-width="1"/>
<line x1="335.2" y1="91.4" x2="338.4" y2="88.2" stroke="#4a3a4a" stroke-width="1"/>
<text x="335.2" y="57.5" font-size="6.2" text-anchor="middle" fill="#4a404a" textLength="12.4" lengthAdjust="spacingAndGlyphs" transform="rotate(-90 335.2 57.5)">1500</text>
<line x1="367.9" y1="70.9" x2="437.6" y2="70.9" stroke="#7f7482" stroke-width="1.1"/>
<line x1="369.3" y1="72.5" x2="372.5" y2="69.3" stroke="#4a3a4a" stroke-width="1"/>
<line x1="433" y1="72.5" x2="436.2" y2="69.3" stroke="#4a3a4a" stroke-width="1"/>
<text x="402.75" y="69.6" font-size="6.2" text-anchor="middle" fill="#4a404a" stroke="#4a404a" stroke-width="0.18" textLength="12.4" lengthAdjust="spacingAndGlyphs">2450</text>
<line x1="18" y1="86.8" x2="18" y2="398" stroke="#7f7482" stroke-width="1.1"/>
<line x1="16.4" y1="91.4" x2="19.6" y2="88.2" stroke="#4a3a4a" stroke-width="1"/>
<line x1="14" y1="89.8" x2="22" y2="89.8" stroke="#555" stroke-width="0.8"/>
<line x1="16.4" y1="396.6" x2="19.6" y2="393.4" stroke="#4a3a4a" stroke-width="1"/>
<line x1="14" y1="395" x2="22" y2="395" stroke="#555" stroke-width="0.8"/>
<text x="16.7" y="242.4" font-size="6.2" text-anchor="middle" fill="#4a404a" stroke="#4a404a" stroke-width="0.18" textLength="15.5" lengthAdjust="spacingAndGlyphs" transform="rotate(-90 16.7 242.4)">11800</text>
<line x1="27.6" y1="86.8" x2="27.6" y2="398" stroke="#7f7482" stroke-width="1.1"/>
<line x1="26" y1="91.4" x2="29.2" y2="88.2" stroke="#4a3a4a" stroke-width="1"/>
<line x1="23" y1="89.8" x2="40" y2="89.8" stroke="#555" stroke-width="0.8"/>
<line x1="26" y1="221.1" x2="29.2" y2="217.9" stroke="#4a3a4a" stroke-width="1"/>
<line x1="23" y1="219.5" x2="40" y2="219.5" stroke="#555" stroke-width="0.8"/>
<line x1="26" y1="267.1" x2="29.2" y2="263.9" stroke="#4a3a4a" stroke-width="1"/>
<line x1="23" y1="265.5" x2="40" y2="265.5" stroke="#555" stroke-width="0.8"/>
<line x1="26" y1="314.6" x2="29.2" y2="311.4" stroke="#4a3a4a" stroke-width="1"/>
<line x1="23" y1="313" x2="40" y2="313" stroke="#555" stroke-width="0.8"/>
<line x1="26" y1="359.6" x2="29.2" y2="356.4" stroke="#4a3a4a" stroke-width="1"/>
<line x1="23" y1="358" x2="40" y2="358" stroke="#555" stroke-width="0.8"/>
<line x1="26" y1="396.6" x2="29.2" y2="393.4" stroke="#4a3a4a" stroke-width="1"/>
<line x1="23" y1="395" x2="40" y2="395" stroke="#555" stroke-width="0.8"/>
<text x="26.3" y="154.65" font-size="6.2" text-anchor="middle" fill="#4a404a" stroke="#4a404a" stroke-width="0.18" textLength="12.4" lengthAdjust="spacingAndGlyphs" transform="rotate(-90 26.3 154.65)">5050</text>
<text x="26.3" y="242.5" font-size="6.2" text-anchor="middle" fill="#4a404a" stroke="#4a404a" stroke-width="0.18" textLength="12.4" lengthAdjust="spacingAndGlyphs" transform="rotate(-90 26.3 242.5)">1750</text>
<text x="26.3" y="289.25" font-size="6.2" text-anchor="middle" fill="#4a404a" stroke="#4a404a" stroke-width="0.18" textLength="12.4" lengthAdjust="spacingAndGlyphs" transform="rotate(-90 26.3 289.25)">1600</text>
<text x="26.3" y="335.5" font-size="6.2" text-anchor="middle" fill="#4a404a" stroke="#4a404a" stroke-width="0.18" textLength="12.4" lengthAdjust="spacingAndGlyphs" transform="rotate(-90 26.3 335.5)">1750</text>
<text x="26.3" y="376.5" font-size="6.2" text-anchor="middle" fill="#4a404a" stroke="#4a404a" stroke-width="0.18" textLength="12.4" lengthAdjust="spacingAndGlyphs" transform="rotate(-90 26.3 376.5)">1400</text>
<line x1="762" y1="86.8" x2="762" y2="398" stroke="#7f7482" stroke-width="1.1"/>
<line x1="760.4" y1="91.4" x2="763.6" y2="88.2" stroke="#4a3a4a" stroke-width="1"/>
<line x1="753" y1="89.8" x2="766" y2="89.8" stroke="#555" stroke-width="0.8"/>
<line x1="760.4" y1="116.6" x2="763.6" y2="113.4" stroke="#4a3a4a" stroke-width="1"/>
<line x1="753" y1="115" x2="766" y2="115" stroke="#555" stroke-width="0.8"/>
<line x1="760.4" y1="168.6" x2="763.6" y2="165.4" stroke="#4a3a4a" stroke-width="1"/>
<line x1="753" y1="167" x2="766" y2="167" stroke="#555" stroke-width="0.8"/>
<line x1="760.4" y1="209.6" x2="763.6" y2="206.4" stroke="#4a3a4a" stroke-width="1"/>
<line x1="753" y1="208" x2="766" y2="208" stroke="#555" stroke-width="0.8"/>
<line x1="760.4" y1="261.6" x2="763.6" y2="258.4" stroke="#4a3a4a" stroke-width="1"/>
<line x1="753" y1="260" x2="766" y2="260" stroke="#555" stroke-width="0.8"/>
<line x1="760.4" y1="300.6" x2="763.6" y2="297.4" stroke="#4a3a4a" stroke-width="1"/>
<line x1="753" y1="299" x2="766" y2="299" stroke="#555" stroke-width="0.8"/>
<line x1="760.4" y1="352.2" x2="763.6" y2="349" stroke="#4a3a4a" stroke-width="1"/>
<line x1="753" y1="350.6" x2="766" y2="350.6" stroke="#555" stroke-width="0.8"/>
<line x1="760.4" y1="396.6" x2="763.6" y2="393.4" stroke="#4a3a4a" stroke-width="1"/>
<line x1="753" y1="395" x2="766" y2="395" stroke="#555" stroke-width="0.8"/>
<text x="760.4" y="102.4" font-size="6.2" text-anchor="middle" fill="#4a404a" stroke="#4a404a" stroke-width="0.18" textLength="12.4" lengthAdjust="spacingAndGlyphs" transform="rotate(-90 760.4 102.4)">1000</text>
<text x="760.4" y="141" font-size="6.2" text-anchor="middle" fill="#4a404a" stroke="#4a404a" stroke-width="0.18" textLength="12.4" lengthAdjust="spacingAndGlyphs" transform="rotate(-90 760.4 141)">2000</text>
<text x="760.4" y="187.5" font-size="6.2" text-anchor="middle" fill="#4a404a" stroke="#4a404a" stroke-width="0.18" textLength="12.4" lengthAdjust="spacingAndGlyphs" transform="rotate(-90 760.4 187.5)">1600</text>
<text x="760.4" y="234" font-size="6.2" text-anchor="middle" fill="#4a404a" stroke="#4a404a" stroke-width="0.18" textLength="12.4" lengthAdjust="spacingAndGlyphs" transform="rotate(-90 760.4 234)">2000</text>
<text x="760.4" y="279.5" font-size="6.2" text-anchor="middle" fill="#4a404a" stroke="#4a404a" stroke-width="0.18" textLength="12.4" lengthAdjust="spacingAndGlyphs" transform="rotate(-90 760.4 279.5)">1600</text>
<text x="760.4" y="324.8" font-size="6.2" text-anchor="middle" fill="#4a404a" stroke="#4a404a" stroke-width="0.18" textLength="12.4" lengthAdjust="spacingAndGlyphs" transform="rotate(-90 760.4 324.8)">2000</text>
<text x="760.4" y="372.8" font-size="6.2" text-anchor="middle" fill="#4a404a" stroke="#4a404a" stroke-width="0.18" textLength="12.4" lengthAdjust="spacingAndGlyphs" transform="rotate(-90 760.4 372.8)">1750</text>
<line x1="41" y1="414.5" x2="752.8" y2="414.5" stroke="#7f7482" stroke-width="1.1"/>
<line x1="42.4" y1="416.1" x2="45.6" y2="412.9" stroke="#4a3a4a" stroke-width="1"/>
<line x1="44" y1="399" x2="44" y2="417" stroke="#555" stroke-width="0.8"/>
<line x1="106.9" y1="416.1" x2="110.1" y2="412.9" stroke="#4a3a4a" stroke-width="1"/>
<line x1="108.5" y1="399" x2="108.5" y2="417" stroke="#555" stroke-width="0.8"/>
<line x1="152.4" y1="416.1" x2="155.6" y2="412.9" stroke="#4a3a4a" stroke-width="1"/>
<line x1="154" y1="399" x2="154" y2="417" stroke="#555" stroke-width="0.8"/>
<line x1="245.4" y1="416.1" x2="248.6" y2="412.9" stroke="#4a3a4a" stroke-width="1"/>
<line x1="247" y1="399" x2="247" y2="417" stroke="#555" stroke-width="0.8"/>
<line x1="290.9" y1="416.1" x2="294.1" y2="412.9" stroke="#4a3a4a" stroke-width="1"/>
<line x1="292.5" y1="399" x2="292.5" y2="417" stroke="#555" stroke-width="0.8"/>
<line x1="382.4" y1="416.1" x2="385.6" y2="412.9" stroke="#4a3a4a" stroke-width="1"/>
<line x1="384" y1="399" x2="384" y2="417" stroke="#555" stroke-width="0.8"/>
<line x1="427.4" y1="416.1" x2="430.6" y2="412.9" stroke="#4a3a4a" stroke-width="1"/>
<line x1="429" y1="399" x2="429" y2="417" stroke="#555" stroke-width="0.8"/>
<line x1="519.4" y1="416.1" x2="522.6" y2="412.9" stroke="#4a3a4a" stroke-width="1"/>
<line x1="521" y1="399" x2="521" y2="417" stroke="#555" stroke-width="0.8"/>
<line x1="565.4" y1="416.1" x2="568.6" y2="412.9" stroke="#4a3a4a" stroke-width="1"/>
<line x1="567" y1="399" x2="567" y2="417" stroke="#555" stroke-width="0.8"/>
<line x1="657.4" y1="416.1" x2="660.6" y2="412.9" stroke="#4a3a4a" stroke-width="1"/>
<line x1="659" y1="399" x2="659" y2="417" stroke="#555" stroke-width="0.8"/>
<line x1="702.9" y1="416.1" x2="706.1" y2="412.9" stroke="#4a3a4a" stroke-width="1"/>
<line x1="704.5" y1="399" x2="704.5" y2="417" stroke="#555" stroke-width="0.8"/>
<line x1="748.2" y1="416.1" x2="751.4" y2="412.9" stroke="#4a3a4a" stroke-width="1"/>
<line x1="749.8" y1="399" x2="749.8" y2="417" stroke="#555" stroke-width="0.8"/>
<text x="76.25" y="413.2" font-size="6.2" text-anchor="middle" fill="#4a404a" stroke="#4a404a" stroke-width="0.18" textLength="12.4" lengthAdjust="spacingAndGlyphs">2500</text>
<text x="131.25" y="413.2" font-size="6.2" text-anchor="middle" fill="#4a404a" stroke="#4a404a" stroke-width="0.18" textLength="12.4" lengthAdjust="spacingAndGlyphs">1750</text>
<text x="200.5" y="413.2" font-size="6.2" text-anchor="middle" fill="#4a404a" stroke="#4a404a" stroke-width="0.18" textLength="12.4" lengthAdjust="spacingAndGlyphs">3750</text>
<text x="269.75" y="413.2" font-size="6.2" text-anchor="middle" fill="#4a404a" stroke="#4a404a" stroke-width="0.18" textLength="12.4" lengthAdjust="spacingAndGlyphs">1750</text>
<text x="338.25" y="413.2" font-size="6.2" text-anchor="middle" fill="#4a404a" stroke="#4a404a" stroke-width="0.18" textLength="12.4" lengthAdjust="spacingAndGlyphs">3600</text>
<text x="406.5" y="413.2" font-size="6.2" text-anchor="middle" fill="#4a404a" stroke="#4a404a" stroke-width="0.18" textLength="12.4" lengthAdjust="spacingAndGlyphs">1750</text>
<text x="475" y="413.2" font-size="6.2" text-anchor="middle" fill="#4a404a" stroke="#4a404a" stroke-width="0.18" textLength="12.4" lengthAdjust="spacingAndGlyphs">3600</text>
<text x="544" y="413.2" font-size="6.2" text-anchor="middle" fill="#4a404a" stroke="#4a404a" stroke-width="0.18" textLength="12.4" lengthAdjust="spacingAndGlyphs">1750</text>
<text x="613" y="413.2" font-size="6.2" text-anchor="middle" fill="#4a404a" stroke="#4a404a" stroke-width="0.18" textLength="12.4" lengthAdjust="spacingAndGlyphs">3600</text>
<text x="681.75" y="413.2" font-size="6.2" text-anchor="middle" fill="#4a404a" stroke="#4a404a" stroke-width="0.18" textLength="12.4" lengthAdjust="spacingAndGlyphs">1750</text>
<text x="727.15" y="413.2" font-size="6.2" text-anchor="middle" fill="#4a404a" stroke="#4a404a" stroke-width="0.18" textLength="12.4" lengthAdjust="spacingAndGlyphs">1750</text>
<line x1="41" y1="427.4" x2="752.8" y2="427.4" stroke="#7f7482" stroke-width="1.1"/>
<line x1="42.4" y1="429" x2="45.6" y2="425.8" stroke="#4a3a4a" stroke-width="1"/>
<line x1="748.2" y1="429" x2="751.4" y2="425.8" stroke="#4a3a4a" stroke-width="1"/>
<text x="396.9" y="426.1" font-size="6.2" text-anchor="middle" fill="#4a404a" stroke="#4a404a" stroke-width="0.18" textLength="15.5" lengthAdjust="spacingAndGlyphs">27300</text>
<line x1="44" y1="412" x2="44" y2="431" stroke="#555" stroke-width="0.8"/>
<line x1="749.8" y1="412" x2="749.8" y2="431" stroke="#555" stroke-width="0.8"/>
<line x1="52.6" y1="154.1" x2="365" y2="154.1" stroke="#6c666c" stroke-width="1.1"/>
<line x1="54" y1="155.7" x2="57.2" y2="152.5" stroke="#4a3a4a" stroke-width="1"/>
<line x1="185.6" y1="155.7" x2="188.8" y2="152.5" stroke="#4a3a4a" stroke-width="1"/>
<line x1="191.1" y1="155.7" x2="194.3" y2="152.5" stroke="#4a3a4a" stroke-width="1"/>
<line x1="282.9" y1="155.7" x2="286.1" y2="152.5" stroke="#4a3a4a" stroke-width="1"/>
<line x1="286.8" y1="155.7" x2="290" y2="152.5" stroke="#4a3a4a" stroke-width="1"/>
<line x1="329.8" y1="155.7" x2="333" y2="152.5" stroke="#4a3a4a" stroke-width="1"/>
<line x1="333.2" y1="155.7" x2="336.4" y2="152.5" stroke="#4a3a4a" stroke-width="1"/>
<line x1="360.4" y1="155.7" x2="363.6" y2="152.5" stroke="#4a3a4a" stroke-width="1"/>
<text x="121.4" y="152.8" font-size="6.2" text-anchor="middle" fill="#4a404a" stroke="#4a404a" stroke-width="0.18" textLength="12.4" lengthAdjust="spacingAndGlyphs">5100</text>
<text x="238.6" y="152.8" font-size="6.2" text-anchor="middle" fill="#4a404a" stroke="#4a404a" stroke-width="0.18" textLength="12.4" lengthAdjust="spacingAndGlyphs">3550</text>
<text x="309.9" y="152.8" font-size="6.2" text-anchor="middle" fill="#4a404a" stroke="#4a404a" stroke-width="0.18" textLength="12.4" lengthAdjust="spacingAndGlyphs">1650</text>
<text x="348.4" y="152.8" font-size="6.2" text-anchor="middle" fill="#4a404a" stroke="#4a404a" stroke-width="0.18" textLength="12.4" lengthAdjust="spacingAndGlyphs">1050</text>
<line x1="504.7" y1="122.6" x2="741" y2="122.6" stroke="#6c666c" stroke-width="1.1"/>
<line x1="506.1" y1="124.2" x2="509.3" y2="121" stroke="#4a3a4a" stroke-width="1"/>
<line x1="598.9" y1="124.2" x2="602.1" y2="121" stroke="#4a3a4a" stroke-width="1"/>
<line x1="602.8" y1="124.2" x2="606" y2="121" stroke="#4a3a4a" stroke-width="1"/>
<line x1="736.4" y1="124.2" x2="739.6" y2="121" stroke="#4a3a4a" stroke-width="1"/>
<text x="554.1" y="121.3" font-size="6.2" text-anchor="middle" fill="#4a404a" stroke="#4a404a" stroke-width="0.18" textLength="12.4" lengthAdjust="spacingAndGlyphs">3550</text>
<text x="671.2" y="121.3" font-size="6.2" text-anchor="middle" fill="#4a404a" stroke="#4a404a" stroke-width="0.18" textLength="12.4" lengthAdjust="spacingAndGlyphs">5150</text>
<line x1="442.2" y1="153.8" x2="506.2" y2="153.8" stroke="#6c666c" stroke-width="1.1"/>
<line x1="443.6" y1="155.4" x2="446.8" y2="152.2" stroke="#4a3a4a" stroke-width="1"/>
<line x1="464.9" y1="155.4" x2="468.1" y2="152.2" stroke="#4a3a4a" stroke-width="1"/>
<line x1="467.9" y1="155.4" x2="471.1" y2="152.2" stroke="#4a3a4a" stroke-width="1"/>
<line x1="501.6" y1="155.4" x2="504.8" y2="152.2" stroke="#4a3a4a" stroke-width="1"/>
<text x="455.85" y="152.5" font-size="6.2" text-anchor="middle" fill="#4a404a" stroke="#4a404a" stroke-width="0.18" textLength="9.3" lengthAdjust="spacingAndGlyphs">850</text>
<text x="486.35" y="152.5" font-size="6.2" text-anchor="middle" fill="#4a404a" stroke="#4a404a" stroke-width="0.18" textLength="12.4" lengthAdjust="spacingAndGlyphs">1300</text>
<line x1="189.7" y1="231.3" x2="367.6" y2="231.3" stroke="#6c666c" stroke-width="1.1"/>
<line x1="191.1" y1="232.9" x2="194.3" y2="229.7" stroke="#4a3a4a" stroke-width="1"/>
<line x1="286.4" y1="232.9" x2="289.6" y2="229.7" stroke="#4a3a4a" stroke-width="1"/>
<line x1="363" y1="232.9" x2="366.2" y2="229.7" stroke="#4a3a4a" stroke-width="1"/>
<text x="240.35" y="230" font-size="6.2" text-anchor="middle" fill="#4a404a" stroke="#4a404a" stroke-width="0.18" textLength="12.4" lengthAdjust="spacingAndGlyphs">3750</text>
<text x="326.3" y="230" font-size="6.2" text-anchor="middle" fill="#4a404a" stroke="#4a404a" stroke-width="0.18" textLength="12.4" lengthAdjust="spacingAndGlyphs">2850</text>
<line x1="366.5" y1="231.3" x2="396.4" y2="231.3" stroke="#6c666c" stroke-width="1.1"/>
<line x1="367.9" y1="232.9" x2="371.1" y2="229.7" stroke="#4a3a4a" stroke-width="1"/>
<line x1="391.8" y1="232.9" x2="395" y2="229.7" stroke="#4a3a4a" stroke-width="1"/>
<text x="381.45" y="230" font-size="6.2" text-anchor="middle" fill="#4a404a" stroke="#4a404a" stroke-width="0.18" textLength="9.3" lengthAdjust="spacingAndGlyphs">900</text>
<line x1="439" y1="231.3" x2="603.3" y2="231.3" stroke="#6c666c" stroke-width="1.1"/>
<line x1="440.4" y1="232.9" x2="443.6" y2="229.7" stroke="#4a3a4a" stroke-width="1"/>
<line x1="555.4" y1="232.9" x2="558.6" y2="229.7" stroke="#4a3a4a" stroke-width="1"/>
<line x1="578.4" y1="232.9" x2="581.6" y2="229.7" stroke="#4a3a4a" stroke-width="1"/>
<line x1="598.7" y1="232.9" x2="601.9" y2="229.7" stroke="#4a3a4a" stroke-width="1"/>
<text x="499.5" y="230" font-size="6.2" text-anchor="middle" fill="#4a404a" stroke="#4a404a" stroke-width="0.18" textLength="12.4" lengthAdjust="spacingAndGlyphs">4500</text>
<text x="568.5" y="230" font-size="6.2" text-anchor="middle" fill="#4a404a" stroke="#4a404a" stroke-width="0.18" textLength="9.3" lengthAdjust="spacingAndGlyphs">900</text>
<text x="590.15" y="230" font-size="6.2" text-anchor="middle" fill="#4a404a" stroke="#4a404a" stroke-width="0.18" textLength="9.3" lengthAdjust="spacingAndGlyphs">750</text>
<line x1="557" y1="218.5" x2="557" y2="235.5" stroke="#555" stroke-width="0.8"/>
<line x1="580" y1="218.5" x2="580" y2="235.5" stroke="#555" stroke-width="0.8"/>
<line x1="41" y1="289.7" x2="195.7" y2="289.7" stroke="#6c666c" stroke-width="1.1"/>
<line x1="42.4" y1="291.3" x2="45.6" y2="288.1" stroke="#4a3a4a" stroke-width="1"/>
<line x1="54" y1="291.3" x2="57.2" y2="288.1" stroke="#4a3a4a" stroke-width="1"/>
<line x1="186.1" y1="291.3" x2="189.3" y2="288.1" stroke="#4a3a4a" stroke-width="1"/>
<line x1="191.1" y1="291.3" x2="194.3" y2="288.1" stroke="#4a3a4a" stroke-width="1"/>
<text x="49.8" y="288.4" font-size="6.2" text-anchor="middle" fill="#4a404a" stroke="#4a404a" stroke-width="0.18" textLength="9.3" lengthAdjust="spacingAndGlyphs">450</text>
<text x="121.65" y="288.4" font-size="6.2" text-anchor="middle" fill="#4a404a" stroke="#4a404a" stroke-width="0.18" textLength="12.4" lengthAdjust="spacingAndGlyphs">5100</text>
<line x1="189.7" y1="270" x2="235" y2="270" stroke="#6c666c" stroke-width="1.1"/>
<line x1="191.1" y1="271.6" x2="194.3" y2="268.4" stroke="#4a3a4a" stroke-width="1"/>
<line x1="201.8" y1="271.6" x2="205" y2="268.4" stroke="#4a3a4a" stroke-width="1"/>
<line x1="230.4" y1="271.6" x2="233.6" y2="268.4" stroke="#4a3a4a" stroke-width="1"/>
<text x="198.05" y="268.7" font-size="6.2" text-anchor="middle" fill="#4a404a" stroke="#4a404a" stroke-width="0.18" textLength="9.3" lengthAdjust="spacingAndGlyphs">450</text>
<text x="217.7" y="268.7" font-size="6.2" text-anchor="middle" fill="#4a404a" stroke="#4a404a" stroke-width="0.18" textLength="12.4" lengthAdjust="spacingAndGlyphs">1000</text>
<line x1="640.7" y1="270" x2="741" y2="270" stroke="#6c666c" stroke-width="1.1"/>
<line x1="642.1" y1="271.6" x2="645.3" y2="268.4" stroke="#4a3a4a" stroke-width="1"/>
<line x1="736.4" y1="271.6" x2="739.6" y2="268.4" stroke="#4a3a4a" stroke-width="1"/>
<text x="690.85" y="268.7" font-size="6.2" text-anchor="middle" fill="#4a404a" stroke="#4a404a" stroke-width="0.18" textLength="12.4" lengthAdjust="spacingAndGlyphs">3850</text>
<line x1="52.6" y1="340" x2="742" y2="340" stroke="#6c666c" stroke-width="1.1"/>
<line x1="54" y1="341.6" x2="57.2" y2="338.4" stroke="#4a3a4a" stroke-width="1"/>
<line x1="186.1" y1="341.6" x2="189.3" y2="338.4" stroke="#4a3a4a" stroke-width="1"/>
<line x1="191" y1="341.6" x2="194.2" y2="338.4" stroke="#4a3a4a" stroke-width="1"/>
<line x1="318" y1="341.6" x2="321.2" y2="338.4" stroke="#4a3a4a" stroke-width="1"/>
<line x1="322.9" y1="341.6" x2="326.1" y2="338.4" stroke="#4a3a4a" stroke-width="1"/>
<line x1="462.4" y1="341.6" x2="465.6" y2="338.4" stroke="#4a3a4a" stroke-width="1"/>
<line x1="467.9" y1="341.6" x2="471.1" y2="338.4" stroke="#4a3a4a" stroke-width="1"/>
<line x1="598.9" y1="341.6" x2="602.1" y2="338.4" stroke="#4a3a4a" stroke-width="1"/>
<line x1="603" y1="341.6" x2="606.2" y2="338.4" stroke="#4a3a4a" stroke-width="1"/>
<line x1="737.4" y1="341.6" x2="740.6" y2="338.4" stroke="#4a3a4a" stroke-width="1"/>
<text x="121.65" y="338.7" font-size="6.2" text-anchor="middle" fill="#4a404a" stroke="#4a404a" stroke-width="0.18" textLength="12.4" lengthAdjust="spacingAndGlyphs">5150</text>
<text x="256.1" y="338.7" font-size="6.2" text-anchor="middle" fill="#4a404a" stroke="#4a404a" stroke-width="0.18" textLength="12.4" lengthAdjust="spacingAndGlyphs">4900</text>
<text x="394.25" y="338.7" font-size="6.2" text-anchor="middle" fill="#4a404a" stroke="#4a404a" stroke-width="0.18" textLength="12.4" lengthAdjust="spacingAndGlyphs">5400</text>
<text x="535" y="338.7" font-size="6.2" text-anchor="middle" fill="#4a404a" stroke="#4a404a" stroke-width="0.18" textLength="12.4" lengthAdjust="spacingAndGlyphs">5050</text>
<text x="671.8" y="338.7" font-size="6.2" text-anchor="middle" fill="#4a404a" stroke="#4a404a" stroke-width="0.18" textLength="12.4" lengthAdjust="spacingAndGlyphs">5150</text>
<line x1="387.4" y1="217.4" x2="440.3" y2="217.4" stroke="#6c666c" stroke-width="1.1"/>
<line x1="388.8" y1="219" x2="392" y2="215.8" stroke="#4a3a4a" stroke-width="1"/>
<line x1="435.7" y1="219" x2="438.9" y2="215.8" stroke="#4a3a4a" stroke-width="1"/>
<text x="413.85" y="216.1" font-size="6.2" text-anchor="middle" fill="#4a404a" stroke="#4a404a" stroke-width="0.18" textLength="12.4" lengthAdjust="spacingAndGlyphs">1700</text>
<line x1="601.6" y1="219.9" x2="641.4" y2="219.9" stroke="#6c666c" stroke-width="1.1"/>
<line x1="603" y1="221.5" x2="606.2" y2="218.3" stroke="#4a3a4a" stroke-width="1"/>
<line x1="636.8" y1="221.5" x2="640" y2="218.3" stroke="#4a3a4a" stroke-width="1"/>
<text x="621.5" y="218.6" font-size="6.2" text-anchor="middle" fill="#4a404a" stroke="#4a404a" stroke-width="0.18" textLength="12.4" lengthAdjust="spacingAndGlyphs">1300</text>
<line x1="189.7" y1="200.3" x2="229" y2="200.3" stroke="#6c666c" stroke-width="1.1"/>
<line x1="191.1" y1="201.9" x2="194.3" y2="198.7" stroke="#4a3a4a" stroke-width="1"/>
<line x1="199.2" y1="201.9" x2="202.4" y2="198.7" stroke="#4a3a4a" stroke-width="1"/>
<line x1="224.4" y1="201.9" x2="227.6" y2="198.7" stroke="#4a3a4a" stroke-width="1"/>
<text x="196.75" y="199" font-size="6.2" text-anchor="middle" fill="#4a404a" stroke="#4a404a" stroke-width="0.18" textLength="9.3" lengthAdjust="spacingAndGlyphs">250</text>
<text x="213.4" y="199" font-size="6.2" text-anchor="middle" fill="#4a404a" stroke="#4a404a" stroke-width="0.18" textLength="12.4" lengthAdjust="spacingAndGlyphs">1000</text>
<line x1="92" y1="86.8" x2="92" y2="398" stroke="#6c666c" stroke-width="1.1"/>
<line x1="90.4" y1="91.4" x2="93.6" y2="88.2" stroke="#4a3a4a" stroke-width="1"/>
<line x1="90.4" y1="102.8" x2="93.6" y2="99.6" stroke="#4a3a4a" stroke-width="1"/>
<line x1="90.4" y1="193.4" x2="93.6" y2="190.2" stroke="#4a3a4a" stroke-width="1"/>
<line x1="90.4" y1="197.8" x2="93.6" y2="194.6" stroke="#4a3a4a" stroke-width="1"/>
<line x1="90.4" y1="296.5" x2="93.6" y2="293.3" stroke="#4a3a4a" stroke-width="1"/>
<line x1="90.4" y1="301.9" x2="93.6" y2="298.7" stroke="#4a3a4a" stroke-width="1"/>
<line x1="90.4" y1="384.6" x2="93.6" y2="381.4" stroke="#4a3a4a" stroke-width="1"/>
<line x1="90.4" y1="396.6" x2="93.6" y2="393.4" stroke="#4a3a4a" stroke-width="1"/>
<text x="90.7" y="95.5" font-size="6.2" text-anchor="middle" fill="#7d5479" stroke="#7d5479" stroke-width="0.18" textLength="9.3" lengthAdjust="spacingAndGlyphs" transform="rotate(-90 90.7 95.5)">450</text>
<text x="90.7" y="146.5" font-size="6.2" text-anchor="middle" fill="#7d5479" stroke="#7d5479" stroke-width="0.18" textLength="12.4" lengthAdjust="spacingAndGlyphs" transform="rotate(-90 90.7 146.5)">3500</text>
<text x="90.7" y="245.55" font-size="6.2" text-anchor="middle" fill="#7d5479" stroke="#7d5479" stroke-width="0.18" textLength="12.4" lengthAdjust="spacingAndGlyphs" transform="rotate(-90 90.7 245.55)">3750</text>
<text x="90.7" y="357" font-size="6.2" text-anchor="middle" fill="#7d5479" stroke="#7d5479" stroke-width="0.18" textLength="12.4" lengthAdjust="spacingAndGlyphs" transform="rotate(-90 90.7 357)">3200</text>
<text x="90.7" y="389" font-size="6.2" text-anchor="middle" fill="#7d5479" stroke="#7d5479" stroke-width="0.18" textLength="9.3" lengthAdjust="spacingAndGlyphs" transform="rotate(-90 90.7 389)">450</text>
<line x1="269.3" y1="98.2" x2="269.3" y2="386" stroke="#6c666c" stroke-width="1.1"/>
<line x1="267.7" y1="102.8" x2="270.9" y2="99.6" stroke="#4a3a4a" stroke-width="1"/>
<line x1="267.7" y1="223.1" x2="270.9" y2="219.9" stroke="#4a3a4a" stroke-width="1"/>
<line x1="267.7" y1="228" x2="270.9" y2="224.8" stroke="#4a3a4a" stroke-width="1"/>
<line x1="267.7" y1="252.4" x2="270.9" y2="249.2" stroke="#4a3a4a" stroke-width="1"/>
<line x1="267.7" y1="257.9" x2="270.9" y2="254.7" stroke="#4a3a4a" stroke-width="1"/>
<line x1="267.7" y1="384.6" x2="270.9" y2="381.4" stroke="#4a3a4a" stroke-width="1"/>
<text x="268" y="183" font-size="6.2" text-anchor="middle" fill="#7d5479" stroke="#7d5479" stroke-width="0.18" textLength="12.4" lengthAdjust="spacingAndGlyphs" transform="rotate(-90 268 183)">4650</text>
<text x="268" y="243" font-size="6.2" text-anchor="middle" fill="#7d5479" stroke="#7d5479" stroke-width="0.18" textLength="9.3" lengthAdjust="spacingAndGlyphs" transform="rotate(-90 268 243)">960</text>
<text x="268" y="314" font-size="6.2" text-anchor="middle" fill="#7d5479" stroke="#7d5479" stroke-width="0.18" textLength="12.4" lengthAdjust="spacingAndGlyphs" transform="rotate(-90 268 314)">4900</text>
<line x1="300" y1="98.2" x2="300" y2="180.6" stroke="#6c666c" stroke-width="1.1"/>
<line x1="298.4" y1="102.8" x2="301.6" y2="99.6" stroke="#4a3a4a" stroke-width="1"/>
<line x1="298.4" y1="179.2" x2="301.6" y2="176" stroke="#4a3a4a" stroke-width="1"/>
<text x="298.7" y="136" font-size="6.2" text-anchor="middle" fill="#7d5479" stroke="#7d5479" stroke-width="0.18" textLength="12.4" lengthAdjust="spacingAndGlyphs" transform="rotate(-90 298.7 136)">2950</text>
<line x1="340" y1="179.5" x2="340" y2="259.3" stroke="#6c666c" stroke-width="1.1"/>
<line x1="338.4" y1="184.1" x2="341.6" y2="180.9" stroke="#4a3a4a" stroke-width="1"/>
<line x1="338.4" y1="257.9" x2="341.6" y2="254.7" stroke="#4a3a4a" stroke-width="1"/>
<text x="338.7" y="209" font-size="6.2" text-anchor="middle" fill="#7d5479" stroke="#7d5479" stroke-width="0.18" textLength="12.4" lengthAdjust="spacingAndGlyphs" transform="rotate(-90 338.7 209)">2650</text>
<line x1="358" y1="253.5" x2="358" y2="386" stroke="#6c666c" stroke-width="1.1"/>
<line x1="356.4" y1="258.1" x2="359.6" y2="254.9" stroke="#4a3a4a" stroke-width="1"/>
<line x1="356.4" y1="293.9" x2="359.6" y2="290.7" stroke="#4a3a4a" stroke-width="1"/>
<line x1="356.4" y1="299.1" x2="359.6" y2="295.9" stroke="#4a3a4a" stroke-width="1"/>
<line x1="356.4" y1="384.6" x2="359.6" y2="381.4" stroke="#4a3a4a" stroke-width="1"/>
<text x="356.7" y="271.5" font-size="6.2" text-anchor="middle" fill="#7d5479" stroke="#7d5479" stroke-width="0.18" textLength="12.4" lengthAdjust="spacingAndGlyphs" transform="rotate(-90 356.7 271.5)">1400</text>
<text x="356.7" y="327.5" font-size="6.2" text-anchor="middle" fill="#7d5479" stroke="#7d5479" stroke-width="0.18" textLength="12.4" lengthAdjust="spacingAndGlyphs" transform="rotate(-90 356.7 327.5)">3300</text>
<line x1="498" y1="98.1" x2="498" y2="179" stroke="#6c666c" stroke-width="1.1"/>
<line x1="496.4" y1="102.7" x2="499.6" y2="99.5" stroke="#4a3a4a" stroke-width="1"/>
<line x1="496.4" y1="177.6" x2="499.6" y2="174.4" stroke="#4a3a4a" stroke-width="1"/>
<text x="496.7" y="138.55" font-size="6.2" text-anchor="middle" fill="#7d5479" stroke="#7d5479" stroke-width="0.18" textLength="12.4" lengthAdjust="spacingAndGlyphs" transform="rotate(-90 496.7 138.55)">2600</text>
<line x1="477.5" y1="178.3" x2="477.5" y2="386.8" stroke="#6c666c" stroke-width="1.1"/>
<line x1="475.9" y1="182.9" x2="479.1" y2="179.7" stroke="#4a3a4a" stroke-width="1"/>
<line x1="475.9" y1="262.8" x2="479.1" y2="259.6" stroke="#4a3a4a" stroke-width="1"/>
<line x1="475.9" y1="267.9" x2="479.1" y2="264.7" stroke="#4a3a4a" stroke-width="1"/>
<line x1="475.9" y1="385.4" x2="479.1" y2="382.2" stroke="#4a3a4a" stroke-width="1"/>
<text x="476.2" y="221.25" font-size="6.2" text-anchor="middle" fill="#7d5479" stroke="#7d5479" stroke-width="0.18" textLength="12.4" lengthAdjust="spacingAndGlyphs" transform="rotate(-90 476.2 221.25)">3100</text>
<text x="476.2" y="325.05" font-size="6.2" text-anchor="middle" fill="#7d5479" stroke="#7d5479" stroke-width="0.18" textLength="12.4" lengthAdjust="spacingAndGlyphs" transform="rotate(-90 476.2 325.05)">4500</text>
<line x1="527.7" y1="98.1" x2="527.7" y2="386.8" stroke="#6c666c" stroke-width="1.1"/>
<line x1="526.1" y1="102.7" x2="529.3" y2="99.5" stroke="#4a3a4a" stroke-width="1"/>
<line x1="526.1" y1="214.4" x2="529.3" y2="211.2" stroke="#4a3a4a" stroke-width="1"/>
<line x1="526.1" y1="218.6" x2="529.3" y2="215.4" stroke="#4a3a4a" stroke-width="1"/>
<line x1="526.1" y1="262.8" x2="529.3" y2="259.6" stroke="#4a3a4a" stroke-width="1"/>
<line x1="526.1" y1="267.9" x2="529.3" y2="264.7" stroke="#4a3a4a" stroke-width="1"/>
<line x1="526.1" y1="385.4" x2="529.3" y2="382.2" stroke="#4a3a4a" stroke-width="1"/>
<text x="526.4" y="156.95" font-size="6.2" text-anchor="middle" fill="#7d5479" stroke="#7d5479" stroke-width="0.18" textLength="12.4" lengthAdjust="spacingAndGlyphs" transform="rotate(-90 526.4 156.95)">4250</text>
<text x="526.4" y="239.1" font-size="6.2" text-anchor="middle" fill="#7d5479" stroke="#7d5479" stroke-width="0.18" textLength="12.4" lengthAdjust="spacingAndGlyphs" transform="rotate(-90 526.4 239.1)">1700</text>
<text x="526.4" y="325.05" font-size="6.2" text-anchor="middle" fill="#7d5479" stroke="#7d5479" stroke-width="0.18" textLength="12.4" lengthAdjust="spacingAndGlyphs" transform="rotate(-90 526.4 325.05)">4500</text>
<line x1="704.7" y1="86.8" x2="704.7" y2="386.8" stroke="#6c666c" stroke-width="1.1"/>
<line x1="703.1" y1="91.4" x2="706.3" y2="88.2" stroke="#4a3a4a" stroke-width="1"/>
<line x1="703.1" y1="102.7" x2="706.3" y2="99.5" stroke="#4a3a4a" stroke-width="1"/>
<line x1="703.1" y1="191" x2="706.3" y2="187.8" stroke="#4a3a4a" stroke-width="1"/>
<line x1="703.1" y1="195.6" x2="706.3" y2="192.4" stroke="#4a3a4a" stroke-width="1"/>
<line x1="703.1" y1="293.4" x2="706.3" y2="290.2" stroke="#4a3a4a" stroke-width="1"/>
<line x1="703.1" y1="297.6" x2="706.3" y2="294.4" stroke="#4a3a4a" stroke-width="1"/>
<line x1="703.1" y1="385.4" x2="706.3" y2="382.2" stroke="#4a3a4a" stroke-width="1"/>
<text x="703.4" y="95.45" font-size="6.2" text-anchor="middle" fill="#7d5479" stroke="#7d5479" stroke-width="0.18" textLength="9.3" lengthAdjust="spacingAndGlyphs" transform="rotate(-90 703.4 95.45)">450</text>
<text x="703.4" y="145.25" font-size="6.2" text-anchor="middle" fill="#7d5479" stroke="#7d5479" stroke-width="0.18" textLength="12.4" lengthAdjust="spacingAndGlyphs" transform="rotate(-90 703.4 145.25)">3400</text>
<text x="703.4" y="242.9" font-size="6.2" text-anchor="middle" fill="#7d5479" stroke="#7d5479" stroke-width="0.18" textLength="12.4" lengthAdjust="spacingAndGlyphs" transform="rotate(-90 703.4 242.9)">3750</text>
<text x="703.4" y="353" font-size="6.2" text-anchor="middle" fill="#7d5479" stroke="#7d5479" stroke-width="0.18" textLength="12.4" lengthAdjust="spacingAndGlyphs" transform="rotate(-90 703.4 353)">3350</text>
<text x="126.5" y="125.7" font-size="6.2" text-anchor="middle" fill="#222" stroke="#222" stroke-width="0.15" textLength="9.3" lengthAdjust="spacingAndGlyphs">3,11</text>
<text x="126.5" y="131.7" font-size="5.8" text-anchor="middle" fill="#222" stroke="#222" stroke-width="0.12" textLength="23.7" lengthAdjust="spacingAndGlyphs">KANCELÁŘ</text>
<text x="232" y="125.7" font-size="6.2" text-anchor="middle" fill="#222" stroke="#222" stroke-width="0.15" textLength="9.3" lengthAdjust="spacingAndGlyphs">3,10</text>
<text x="232" y="131.7" font-size="5.8" text-anchor="middle" fill="#222" stroke="#222" stroke-width="0.12" textLength="22" lengthAdjust="spacingAndGlyphs">KUCHYNĚ</text>
<text x="316.8" y="125.7" font-size="6.2" text-anchor="middle" fill="#222" stroke="#222" stroke-width="0.15" textLength="9.3" lengthAdjust="spacingAndGlyphs">3,09</text>
<text x="316.8" y="131.7" font-size="5.8" text-anchor="middle" fill="#222" stroke="#222" stroke-width="0.12" textLength="18" lengthAdjust="spacingAndGlyphs">SPRCHY</text>
<text x="352.8" y="125.7" font-size="6.2" text-anchor="middle" fill="#222" stroke="#222" stroke-width="0.15" textLength="9.3" lengthAdjust="spacingAndGlyphs">3,08</text>
<text x="352.8" y="131.7" font-size="5.8" text-anchor="middle" fill="#222" stroke="#222" stroke-width="0.12" textLength="8" lengthAdjust="spacingAndGlyphs">WC</text>
<text x="403.4" y="81.3" font-size="6.2" text-anchor="middle" fill="#222" stroke="#222" stroke-width="0.15" textLength="9.3" lengthAdjust="spacingAndGlyphs">3,22</text>
<text x="403.4" y="87.3" font-size="5.8" text-anchor="middle" fill="#222" stroke="#222" stroke-width="0.12" textLength="26" lengthAdjust="spacingAndGlyphs">SCHODIŠTĚ</text>
<text x="455.5" y="125.7" font-size="6.2" text-anchor="middle" fill="#222" stroke="#222" stroke-width="0.15" textLength="9.3" lengthAdjust="spacingAndGlyphs">3,04</text>
<text x="455.5" y="131.7" font-size="5.8" text-anchor="middle" fill="#222" stroke="#222" stroke-width="0.12" textLength="8" lengthAdjust="spacingAndGlyphs">WC</text>
<text x="481.8" y="125.7" font-size="6.2" text-anchor="middle" fill="#222" stroke="#222" stroke-width="0.15" textLength="9.3" lengthAdjust="spacingAndGlyphs">3,03</text>
<text x="481.8" y="131.7" font-size="5.8" text-anchor="middle" fill="#222" stroke="#222" stroke-width="0.12" textLength="18" lengthAdjust="spacingAndGlyphs">SPRCHY</text>
<text x="562" y="147.3" font-size="6.2" text-anchor="middle" fill="#222" stroke="#222" stroke-width="0.15" textLength="9.3" lengthAdjust="spacingAndGlyphs">3,02</text>
<text x="562" y="153.3" font-size="5.8" text-anchor="middle" fill="#222" stroke="#222" stroke-width="0.12" textLength="28" lengthAdjust="spacingAndGlyphs">ŠANONÁRNA</text>
<text x="663" y="149.3" font-size="6.2" text-anchor="middle" fill="#222" stroke="#222" stroke-width="0.15" textLength="9.3" lengthAdjust="spacingAndGlyphs">3,01</text>
<text x="663" y="155.3" font-size="5.8" text-anchor="middle" fill="#222" stroke="#222" stroke-width="0.12" textLength="28" lengthAdjust="spacingAndGlyphs">VZORKOVNA</text>
<text x="129" y="237.3" font-size="6.2" text-anchor="middle" fill="#222" stroke="#222" stroke-width="0.15" textLength="9.3" lengthAdjust="spacingAndGlyphs">3,12</text>
<text x="129" y="243.3" font-size="5.8" text-anchor="middle" fill="#222" stroke="#222" stroke-width="0.12" textLength="23.7" lengthAdjust="spacingAndGlyphs">KANCELÁŘ</text>
<text x="312.5" y="204.8" font-size="6.2" text-anchor="middle" fill="#222" stroke="#222" stroke-width="0.15" textLength="9.3" lengthAdjust="spacingAndGlyphs">3,07</text>
<text x="312.5" y="210.8" font-size="5.8" text-anchor="middle" fill="#222" stroke="#222" stroke-width="0.12" textLength="19" lengthAdjust="spacingAndGlyphs">CHODBA</text>
<text x="401" y="204.1" font-size="6.2" text-anchor="middle" fill="#222" stroke="#222" stroke-width="0.15" textLength="9.3" lengthAdjust="spacingAndGlyphs">3,06</text>
<text x="401" y="210.1" font-size="5.8" text-anchor="middle" fill="#222" stroke="#222" stroke-width="0.12" textLength="45" lengthAdjust="spacingAndGlyphs">SPOJOVACÍ CHODBA</text>
<text x="501" y="244.8" font-size="6.2" text-anchor="middle" fill="#222" stroke="#222" stroke-width="0.15" textLength="9.3" lengthAdjust="spacingAndGlyphs">3,05</text>
<text x="501" y="250.8" font-size="5.8" text-anchor="middle" fill="#222" stroke="#222" stroke-width="0.12" textLength="19" lengthAdjust="spacingAndGlyphs">CHODBA</text>
<text x="623" y="235.9" font-size="6.2" text-anchor="middle" fill="#222" stroke="#222" stroke-width="0.15" textLength="9.3" lengthAdjust="spacingAndGlyphs">3,21</text>
<text x="623" y="241.9" font-size="5.8" text-anchor="middle" fill="#222" stroke="#222" stroke-width="0.12" textLength="19" lengthAdjust="spacingAndGlyphs">CHODBA</text>
<text x="678.8" y="218.8" font-size="6.2" text-anchor="middle" fill="#222" stroke="#222" stroke-width="0.15" textLength="9.3" lengthAdjust="spacingAndGlyphs">3,20</text>
<text x="678.8" y="224.8" font-size="5.8" text-anchor="middle" fill="#222" stroke="#222" stroke-width="0.12" textLength="23.7" lengthAdjust="spacingAndGlyphs">KANCELÁŘ</text>
<text x="373.8" y="276.8" font-size="6.2" text-anchor="middle" fill="#222" stroke="#222" stroke-width="0.15" textLength="9.3" lengthAdjust="spacingAndGlyphs">3,15</text>
<text x="373.8" y="282.8" font-size="5.8" text-anchor="middle" fill="#222" stroke="#222" stroke-width="0.12" textLength="19" lengthAdjust="spacingAndGlyphs">CHODBA</text>
<text x="416" y="260.8" font-size="6.2" text-anchor="middle" fill="#222" stroke="#222" stroke-width="0.15" textLength="9.3" lengthAdjust="spacingAndGlyphs">3,16</text>
<text x="416" y="266.8" font-size="5.8" text-anchor="middle" fill="#222" stroke="#222" stroke-width="0.12" textLength="8" lengthAdjust="spacingAndGlyphs">WC</text>
<text x="438" y="277.1" font-size="6.2" text-anchor="middle" fill="#222" stroke="#222" stroke-width="0.15" textLength="9.3" lengthAdjust="spacingAndGlyphs">3,17</text>
<text x="438" y="283.1" font-size="5.8" text-anchor="middle" fill="#222" stroke="#222" stroke-width="0.12" textLength="18" lengthAdjust="spacingAndGlyphs">SPRCHY</text>
<text x="420" y="324.8" font-size="6.2" text-anchor="middle" fill="#222" stroke="#222" stroke-width="0.15" textLength="9.3" lengthAdjust="spacingAndGlyphs">3,14</text>
<text x="420" y="330.8" font-size="5.8" text-anchor="middle" fill="#222" stroke="#222" stroke-width="0.12" textLength="15" lengthAdjust="spacingAndGlyphs">ŠATNA</text>
<text x="557" y="323.6" font-size="6.2" text-anchor="middle" fill="#222" stroke="#222" stroke-width="0.15" textLength="9.3" lengthAdjust="spacingAndGlyphs">3,18</text>
<text x="557" y="329.6" font-size="5.8" text-anchor="middle" fill="#222" stroke="#222" stroke-width="0.12" textLength="23.7" lengthAdjust="spacingAndGlyphs">KANCELÁŘ</text>
<text x="671.7" y="323.1" font-size="6.2" text-anchor="middle" fill="#222" stroke="#222" stroke-width="0.15" textLength="9.3" lengthAdjust="spacingAndGlyphs">3,19</text>
<text x="671.7" y="329.1" font-size="5.8" text-anchor="middle" fill="#222" stroke="#222" stroke-width="0.12" textLength="23.7" lengthAdjust="spacingAndGlyphs">KANCELÁŘ</text>
<text x="168" y="356.1" font-size="6.2" text-anchor="middle" fill="#222" stroke="#222" stroke-width="0.15" textLength="9.3" lengthAdjust="spacingAndGlyphs">3,13</text>
<text x="168" y="362.1" font-size="5.8" text-anchor="middle" fill="#222" stroke="#222" stroke-width="0.12" textLength="23.7" lengthAdjust="spacingAndGlyphs">KANCELÁŘ</text>
<text x="21.5" y="486.6" font-size="8.8" text-anchor="start" fill="#1a1a1a" stroke="#1a1a1a" stroke-width="0.25" textLength="81.5" lengthAdjust="spacingAndGlyphs">TABULKA MÍSTNOSTÍ:</text>
<rect x="19.7" y="491.3" width="301.8" height="230.71" stroke="#3a3a3a" stroke-width="1.4" fill="none"/>
<line x1="49.8" y1="491.3" x2="49.8" y2="722.01" stroke="#3a3a3a" stroke-width="1.4"/>
<line x1="119.7" y1="491.3" x2="119.7" y2="722.01" stroke="#3a3a3a" stroke-width="1.4"/>
<line x1="152.4" y1="491.3" x2="152.4" y2="722.01" stroke="#3a3a3a" stroke-width="1.4"/>
<line x1="216.8" y1="491.3" x2="216.8" y2="722.01" stroke="#3a3a3a" stroke-width="1.4"/>
<line x1="282.2" y1="491.3" x2="282.2" y2="722.01" stroke="#3a3a3a" stroke-width="1.4"/>
<line x1="19.7" y1="514" x2="321.5" y2="514" stroke="#3a3a3a" stroke-width="1.4"/>
<line x1="19.7" y1="523.46" x2="321.5" y2="523.46" stroke="#3a3a3a" stroke-width="1.2"/>
<line x1="19.7" y1="532.91" x2="321.5" y2="532.91" stroke="#3a3a3a" stroke-width="1.2"/>
<line x1="19.7" y1="542.37" x2="321.5" y2="542.37" stroke="#3a3a3a" stroke-width="1.2"/>
<line x1="19.7" y1="551.82" x2="321.5" y2="551.82" stroke="#3a3a3a" stroke-width="1.2"/>
<line x1="19.7" y1="561.27" x2="321.5" y2="561.27" stroke="#3a3a3a" stroke-width="1.2"/>
<line x1="19.7" y1="570.73" x2="321.5" y2="570.73" stroke="#3a3a3a" stroke-width="1.2"/>
<line x1="19.7" y1="580.18" x2="321.5" y2="580.18" stroke="#3a3a3a" stroke-width="1.2"/>
<line x1="19.7" y1="589.64" x2="321.5" y2="589.64" stroke="#3a3a3a" stroke-width="1.2"/>
<line x1="19.7" y1="599.1" x2="321.5" y2="599.1" stroke="#3a3a3a" stroke-width="1.2"/>
<line x1="19.7" y1="608.55" x2="321.5" y2="608.55" stroke="#3a3a3a" stroke-width="1.2"/>
<line x1="19.7" y1="618" x2="321.5" y2="618" stroke="#3a3a3a" stroke-width="1.2"/>
<line x1="19.7" y1="627.46" x2="321.5" y2="627.46" stroke="#3a3a3a" stroke-width="1.2"/>
<line x1="19.7" y1="636.91" x2="321.5" y2="636.91" stroke="#3a3a3a" stroke-width="1.2"/>
<line x1="19.7" y1="646.37" x2="321.5" y2="646.37" stroke="#3a3a3a" stroke-width="1.2"/>
<line x1="19.7" y1="655.83" x2="321.5" y2="655.83" stroke="#3a3a3a" stroke-width="1.2"/>
<line x1="19.7" y1="665.28" x2="321.5" y2="665.28" stroke="#3a3a3a" stroke-width="1.2"/>
<line x1="19.7" y1="674.74" x2="321.5" y2="674.74" stroke="#3a3a3a" stroke-width="1.2"/>
<line x1="19.7" y1="684.19" x2="321.5" y2="684.19" stroke="#3a3a3a" stroke-width="1.2"/>
<line x1="19.7" y1="693.64" x2="321.5" y2="693.64" stroke="#3a3a3a" stroke-width="1.2"/>
<line x1="19.7" y1="703.1" x2="321.5" y2="703.1" stroke="#3a3a3a" stroke-width="1.2"/>
<line x1="19.7" y1="712.56" x2="321.5" y2="712.56" stroke="#3a3a3a" stroke-width="1.2"/>
<rect x="119.7" y="722.01" width="33.1" height="8.59" stroke="#3a3a3a" stroke-width="1.4" fill="none"/>
<text x="136.5" y="729.3" font-size="8.6" text-anchor="middle" fill="#1a1a1a" stroke="#1a1a1a" stroke-width="0.12" textLength="19.59" lengthAdjust="spacingAndGlyphs">262,79</text>
<text x="23.6" y="500.8" font-size="7.4" text-anchor="start" fill="#1a1a1a" stroke="#1a1a1a" stroke-width="0.12" textLength="16.54" lengthAdjust="spacingAndGlyphs">ČÍSLO</text>
<text x="23.6" y="510.3" font-size="7.4" text-anchor="start" fill="#1a1a1a" stroke="#1a1a1a" stroke-width="0.12" textLength="20.21" lengthAdjust="spacingAndGlyphs">MÍSTN.:</text>
<text x="83.9" y="506.6" font-size="7.4" text-anchor="middle" fill="#1a1a1a" stroke="#1a1a1a" stroke-width="0.2" textLength="51.8" lengthAdjust="spacingAndGlyphs">NÁZEV MÍSTNOSTI</text>
<text x="135.7" y="500.8" font-size="7.4" text-anchor="middle" fill="#1a1a1a" stroke="#1a1a1a" stroke-width="0.2" textLength="24.2" lengthAdjust="spacingAndGlyphs">PLOCHA</text>
<text x="136.2" y="511" font-size="7.4" text-anchor="middle" fill="#1a1a1a" stroke="#1a1a1a" stroke-width="0.2" textLength="13.5" lengthAdjust="spacingAndGlyphs">(m2)</text>
<text x="184.6" y="500.6" font-size="7.4" text-anchor="middle" fill="#1a1a1a" stroke="#1a1a1a" stroke-width="0.12" textLength="59.8" lengthAdjust="spacingAndGlyphs">POVRCHOVÁ ÚPRAVA</text>
<text x="184.6" y="510.6" font-size="7.4" text-anchor="middle" fill="#1a1a1a" stroke="#1a1a1a" stroke-width="0.12" textLength="22.97" lengthAdjust="spacingAndGlyphs">STROPU</text>
<text x="249.4" y="500.6" font-size="7.4" text-anchor="middle" fill="#1a1a1a" stroke="#1a1a1a" stroke-width="0.12" textLength="59.8" lengthAdjust="spacingAndGlyphs">POVRCHOVÁ ÚPRAVA</text>
<text x="249.4" y="510.6" font-size="7.4" text-anchor="middle" fill="#1a1a1a" stroke="#1a1a1a" stroke-width="0.12" textLength="14.7" lengthAdjust="spacingAndGlyphs">STĚN</text>
<text x="302.4" y="509.3" font-size="7.4" text-anchor="middle" fill="#1a1a1a" stroke="#1a1a1a" stroke-width="0.12" textLength="26.35" lengthAdjust="spacingAndGlyphs">PODLAHA</text>
<text x="34.2" y="521.85" font-size="8.6" text-anchor="middle" fill="#1a1a1a" stroke="#1a1a1a" stroke-width="0.2" textLength="11.72" lengthAdjust="spacingAndGlyphs">3.01</text>
<text x="84.3" y="521.85" font-size="8.6" text-anchor="middle" fill="#1a1a1a" stroke="#1a1a1a" stroke-width="0.2" textLength="40.23" lengthAdjust="spacingAndGlyphs">VZORKOVNA</text>
<text x="146" y="521.85" font-size="8.6" text-anchor="end" fill="#1a1a1a" stroke="#1a1a1a" stroke-width="0.2" textLength="15.49" lengthAdjust="spacingAndGlyphs">17,51</text>
<text x="182.3" y="521.85" font-size="8.6" text-anchor="middle" fill="#1a1a1a" stroke="#1a1a1a" stroke-width="0.2" textLength="44.6" lengthAdjust="spacingAndGlyphs">ŠTUK / MALBA</text>
<text x="248.6" y="521.85" font-size="8.6" text-anchor="middle" fill="#1a1a1a" stroke="#1a1a1a" stroke-width="0.2" textLength="44.6" lengthAdjust="spacingAndGlyphs">ŠTUK / MALBA</text>
<text x="34.2" y="531.31" font-size="8.6" text-anchor="middle" fill="#1a1a1a" stroke="#1a1a1a" stroke-width="0.2" textLength="11.72" lengthAdjust="spacingAndGlyphs">3.02</text>
<text x="84.3" y="531.31" font-size="8.6" text-anchor="middle" fill="#1a1a1a" stroke="#1a1a1a" stroke-width="0.2" textLength="40.59" lengthAdjust="spacingAndGlyphs">ŠANONÁRNA</text>
<text x="146" y="531.31" font-size="8.6" text-anchor="end" fill="#1a1a1a" stroke="#1a1a1a" stroke-width="0.2" textLength="12.05" lengthAdjust="spacingAndGlyphs">7,80</text>
<text x="182.3" y="531.31" font-size="8.6" text-anchor="middle" fill="#1a1a1a" stroke="#1a1a1a" stroke-width="0.2" textLength="44.6" lengthAdjust="spacingAndGlyphs">ŠTUK / MALBA</text>
<text x="248.6" y="531.31" font-size="8.6" text-anchor="middle" fill="#1a1a1a" stroke="#1a1a1a" stroke-width="0.2" textLength="44.6" lengthAdjust="spacingAndGlyphs">ŠTUK / MALBA</text>
<text x="34.2" y="540.76" font-size="8.6" text-anchor="middle" fill="#1a1a1a" stroke="#1a1a1a" stroke-width="0.2" textLength="11.72" lengthAdjust="spacingAndGlyphs">3.03</text>
<text x="84.3" y="540.76" font-size="8.6" text-anchor="middle" fill="#1a1a1a" stroke="#1a1a1a" stroke-width="0.2" textLength="26.7" lengthAdjust="spacingAndGlyphs">SPRCHY</text>
<text x="146" y="540.76" font-size="8.6" text-anchor="end" fill="#1a1a1a" stroke="#1a1a1a" stroke-width="0.2" textLength="12.05" lengthAdjust="spacingAndGlyphs">3,77</text>
<text x="182.3" y="540.76" font-size="8.6" text-anchor="middle" fill="#1a1a1a" stroke="#1a1a1a" stroke-width="0.2" textLength="44.6" lengthAdjust="spacingAndGlyphs">ŠTUK / MALBA</text>
<text x="248.6" y="540.76" font-size="8.6" text-anchor="middle" fill="#1a1a1a" stroke="#1a1a1a" stroke-width="0.2" textLength="44.6" lengthAdjust="spacingAndGlyphs">ŠTUK / MALBA</text>
<text x="34.2" y="550.22" font-size="8.6" text-anchor="middle" fill="#1a1a1a" stroke="#1a1a1a" stroke-width="0.2" textLength="11.72" lengthAdjust="spacingAndGlyphs">3.04</text>
<text x="84.3" y="550.22" font-size="8.6" text-anchor="middle" fill="#1a1a1a" stroke="#1a1a1a" stroke-width="0.2" textLength="10.67" lengthAdjust="spacingAndGlyphs">WC</text>
<text x="146" y="550.22" font-size="8.6" text-anchor="end" fill="#1a1a1a" stroke="#1a1a1a" stroke-width="0.2" textLength="12.05" lengthAdjust="spacingAndGlyphs">2,46</text>
<text x="182.3" y="550.22" font-size="8.6" text-anchor="middle" fill="#1a1a1a" stroke="#1a1a1a" stroke-width="0.2" textLength="44.6" lengthAdjust="spacingAndGlyphs">ŠTUK / MALBA</text>
<text x="248.6" y="550.22" font-size="8.6" text-anchor="middle" fill="#1a1a1a" stroke="#1a1a1a" stroke-width="0.2" textLength="44.6" lengthAdjust="spacingAndGlyphs">ŠTUK / MALBA</text>
<text x="34.2" y="559.67" font-size="8.6" text-anchor="middle" fill="#1a1a1a" stroke="#1a1a1a" stroke-width="0.2" textLength="11.72" lengthAdjust="spacingAndGlyphs">3.05</text>
<text x="84.3" y="559.67" font-size="8.6" text-anchor="middle" fill="#1a1a1a" stroke="#1a1a1a" stroke-width="0.2" textLength="27.41" lengthAdjust="spacingAndGlyphs">CHODBA</text>
<text x="146" y="559.67" font-size="8.6" text-anchor="end" fill="#1a1a1a" stroke="#1a1a1a" stroke-width="0.2" textLength="15.49" lengthAdjust="spacingAndGlyphs">14,43</text>
<text x="182.3" y="559.67" font-size="8.6" text-anchor="middle" fill="#1a1a1a" stroke="#1a1a1a" stroke-width="0.2" textLength="44.6" lengthAdjust="spacingAndGlyphs">ŠTUK / MALBA</text>
<text x="248.6" y="559.67" font-size="8.6" text-anchor="middle" fill="#1a1a1a" stroke="#1a1a1a" stroke-width="0.2" textLength="44.6" lengthAdjust="spacingAndGlyphs">ŠTUK / MALBA</text>
<text x="34.2" y="569.12" font-size="8.6" text-anchor="middle" fill="#1a1a1a" stroke="#1a1a1a" stroke-width="0.2" textLength="11.72" lengthAdjust="spacingAndGlyphs">3.06</text>
<text x="84.3" y="569.12" font-size="8.6" text-anchor="middle" fill="#1a1a1a" stroke="#1a1a1a" stroke-width="0.2" textLength="65.39" lengthAdjust="spacingAndGlyphs">SPOJOVACÍ CHODBA</text>
<text x="146" y="569.12" font-size="8.6" text-anchor="end" fill="#1a1a1a" stroke="#1a1a1a" stroke-width="0.2" textLength="12.05" lengthAdjust="spacingAndGlyphs">6,08</text>
<text x="182.3" y="569.12" font-size="8.6" text-anchor="middle" fill="#1a1a1a" stroke="#1a1a1a" stroke-width="0.2" textLength="44.6" lengthAdjust="spacingAndGlyphs">ŠTUK / MALBA</text>
<text x="248.6" y="569.12" font-size="8.6" text-anchor="middle" fill="#1a1a1a" stroke="#1a1a1a" stroke-width="0.2" textLength="44.6" lengthAdjust="spacingAndGlyphs">ŠTUK / MALBA</text>
<text x="34.2" y="578.58" font-size="8.6" text-anchor="middle" fill="#1a1a1a" stroke="#1a1a1a" stroke-width="0.2" textLength="11.72" lengthAdjust="spacingAndGlyphs">3.07</text>
<text x="84.3" y="578.58" font-size="8.6" text-anchor="middle" fill="#1a1a1a" stroke="#1a1a1a" stroke-width="0.2" textLength="27.41" lengthAdjust="spacingAndGlyphs">CHODBA</text>
<text x="146" y="578.58" font-size="8.6" text-anchor="end" fill="#1a1a1a" stroke="#1a1a1a" stroke-width="0.2" textLength="15.03" lengthAdjust="spacingAndGlyphs">11,37</text>
<text x="182.3" y="578.58" font-size="8.6" text-anchor="middle" fill="#1a1a1a" stroke="#1a1a1a" stroke-width="0.2" textLength="44.6" lengthAdjust="spacingAndGlyphs">ŠTUK / MALBA</text>
<text x="248.6" y="578.58" font-size="8.6" text-anchor="middle" fill="#1a1a1a" stroke="#1a1a1a" stroke-width="0.2" textLength="44.6" lengthAdjust="spacingAndGlyphs">ŠTUK / MALBA</text>
<text x="34.2" y="588.03" font-size="8.6" text-anchor="middle" fill="#1a1a1a" stroke="#1a1a1a" stroke-width="0.2" textLength="11.72" lengthAdjust="spacingAndGlyphs">3.08</text>
<text x="84.3" y="588.03" font-size="8.6" text-anchor="middle" fill="#1a1a1a" stroke="#1a1a1a" stroke-width="0.2" textLength="10.67" lengthAdjust="spacingAndGlyphs">WC</text>
<text x="146" y="588.03" font-size="8.6" text-anchor="end" fill="#1a1a1a" stroke="#1a1a1a" stroke-width="0.2" textLength="12.05" lengthAdjust="spacingAndGlyphs">3,09</text>
<text x="182.3" y="588.03" font-size="8.6" text-anchor="middle" fill="#1a1a1a" stroke="#1a1a1a" stroke-width="0.2" textLength="44.6" lengthAdjust="spacingAndGlyphs">ŠTUK / MALBA</text>
<text x="248.6" y="588.03" font-size="8.6" text-anchor="middle" fill="#1a1a1a" stroke="#1a1a1a" stroke-width="0.2" textLength="44.6" lengthAdjust="spacingAndGlyphs">ŠTUK / MALBA</text>
<text x="34.2" y="597.49" font-size="8.6" text-anchor="middle" fill="#1a1a1a" stroke="#1a1a1a" stroke-width="0.2" textLength="11.72" lengthAdjust="spacingAndGlyphs">3.09</text>
<text x="84.3" y="597.49" font-size="8.6" text-anchor="middle" fill="#1a1a1a" stroke="#1a1a1a" stroke-width="0.2" textLength="26.7" lengthAdjust="spacingAndGlyphs">SPRCHY</text>
<text x="146" y="597.49" font-size="8.6" text-anchor="end" fill="#1a1a1a" stroke="#1a1a1a" stroke-width="0.2" textLength="12.05" lengthAdjust="spacingAndGlyphs">4,86</text>
<text x="182.3" y="597.49" font-size="8.6" text-anchor="middle" fill="#1a1a1a" stroke="#1a1a1a" stroke-width="0.2" textLength="44.6" lengthAdjust="spacingAndGlyphs">ŠTUK / MALBA</text>
<text x="248.6" y="597.49" font-size="8.6" text-anchor="middle" fill="#1a1a1a" stroke="#1a1a1a" stroke-width="0.2" textLength="44.6" lengthAdjust="spacingAndGlyphs">ŠTUK / MALBA</text>
<text x="34.2" y="606.95" font-size="8.6" text-anchor="middle" fill="#1a1a1a" stroke="#1a1a1a" stroke-width="0.2" textLength="11.72" lengthAdjust="spacingAndGlyphs">3.10</text>
<text x="84.3" y="606.95" font-size="8.6" text-anchor="middle" fill="#1a1a1a" stroke="#1a1a1a" stroke-width="0.2" textLength="31.33" lengthAdjust="spacingAndGlyphs">KUCHYNĚ</text>
<text x="146" y="606.95" font-size="8.6" text-anchor="end" fill="#1a1a1a" stroke="#1a1a1a" stroke-width="0.2" textLength="15.49" lengthAdjust="spacingAndGlyphs">16,50</text>
<text x="182.3" y="606.95" font-size="8.6" text-anchor="middle" fill="#1a1a1a" stroke="#1a1a1a" stroke-width="0.2" textLength="44.6" lengthAdjust="spacingAndGlyphs">ŠTUK / MALBA</text>
<text x="248.6" y="606.95" font-size="8.6" text-anchor="middle" fill="#1a1a1a" stroke="#1a1a1a" stroke-width="0.2" textLength="44.6" lengthAdjust="spacingAndGlyphs">ŠTUK / MALBA</text>
<text x="34.2" y="616.4" font-size="8.6" text-anchor="middle" fill="#1a1a1a" stroke="#1a1a1a" stroke-width="0.2" textLength="11.27" lengthAdjust="spacingAndGlyphs">3.11</text>
<text x="84.3" y="616.4" font-size="8.6" text-anchor="middle" fill="#1a1a1a" stroke="#1a1a1a" stroke-width="0.2" textLength="34.54" lengthAdjust="spacingAndGlyphs">KANCELÁŘ</text>
<text x="146" y="616.4" font-size="8.6" text-anchor="end" fill="#1a1a1a" stroke="#1a1a1a" stroke-width="0.2" textLength="15.49" lengthAdjust="spacingAndGlyphs">17,91</text>
<text x="182.3" y="616.4" font-size="8.6" text-anchor="middle" fill="#1a1a1a" stroke="#1a1a1a" stroke-width="0.2" textLength="44.6" lengthAdjust="spacingAndGlyphs">ŠTUK / MALBA</text>
<text x="248.6" y="616.4" font-size="8.6" text-anchor="middle" fill="#1a1a1a" stroke="#1a1a1a" stroke-width="0.2" textLength="44.6" lengthAdjust="spacingAndGlyphs">ŠTUK / MALBA</text>
<text x="34.2" y="625.86" font-size="8.6" text-anchor="middle" fill="#1a1a1a" stroke="#1a1a1a" stroke-width="0.2" textLength="11.72" lengthAdjust="spacingAndGlyphs">3.12</text>
<text x="84.3" y="625.86" font-size="8.6" text-anchor="middle" fill="#1a1a1a" stroke="#1a1a1a" stroke-width="0.2" textLength="34.54" lengthAdjust="spacingAndGlyphs">KANCELÁŘ</text>
<text x="146" y="625.86" font-size="8.6" text-anchor="end" fill="#1a1a1a" stroke="#1a1a1a" stroke-width="0.2" textLength="15.49" lengthAdjust="spacingAndGlyphs">19,12</text>
<text x="182.3" y="625.86" font-size="8.6" text-anchor="middle" fill="#1a1a1a" stroke="#1a1a1a" stroke-width="0.2" textLength="44.6" lengthAdjust="spacingAndGlyphs">ŠTUK / MALBA</text>
<text x="248.6" y="625.86" font-size="8.6" text-anchor="middle" fill="#1a1a1a" stroke="#1a1a1a" stroke-width="0.2" textLength="44.6" lengthAdjust="spacingAndGlyphs">ŠTUK / MALBA</text>
<text x="34.2" y="635.31" font-size="8.6" text-anchor="middle" fill="#1a1a1a" stroke="#1a1a1a" stroke-width="0.2" textLength="11.72" lengthAdjust="spacingAndGlyphs">3.13</text>
<text x="84.3" y="635.31" font-size="8.6" text-anchor="middle" fill="#1a1a1a" stroke="#1a1a1a" stroke-width="0.2" textLength="34.54" lengthAdjust="spacingAndGlyphs">KANCELÁŘ</text>
<text x="146" y="635.31" font-size="8.6" text-anchor="end" fill="#1a1a1a" stroke="#1a1a1a" stroke-width="0.2" textLength="15.49" lengthAdjust="spacingAndGlyphs">40,48</text>
<text x="182.3" y="635.31" font-size="8.6" text-anchor="middle" fill="#1a1a1a" stroke="#1a1a1a" stroke-width="0.2" textLength="44.6" lengthAdjust="spacingAndGlyphs">ŠTUK / MALBA</text>
<text x="248.6" y="635.31" font-size="8.6" text-anchor="middle" fill="#1a1a1a" stroke="#1a1a1a" stroke-width="0.2" textLength="44.6" lengthAdjust="spacingAndGlyphs">ŠTUK / MALBA</text>
<text x="34.2" y="644.76" font-size="8.6" text-anchor="middle" fill="#1a1a1a" stroke="#1a1a1a" stroke-width="0.2" textLength="11.72" lengthAdjust="spacingAndGlyphs">3.14</text>
<text x="84.3" y="644.76" font-size="8.6" text-anchor="middle" fill="#1a1a1a" stroke="#1a1a1a" stroke-width="0.2" textLength="20.89" lengthAdjust="spacingAndGlyphs">ŠATNA</text>
<text x="146" y="644.76" font-size="8.6" text-anchor="end" fill="#1a1a1a" stroke="#1a1a1a" stroke-width="0.2" textLength="15.49" lengthAdjust="spacingAndGlyphs">17,82</text>
<text x="182.3" y="644.76" font-size="8.6" text-anchor="middle" fill="#1a1a1a" stroke="#1a1a1a" stroke-width="0.2" textLength="44.6" lengthAdjust="spacingAndGlyphs">ŠTUK / MALBA</text>
<text x="248.6" y="644.76" font-size="8.6" text-anchor="middle" fill="#1a1a1a" stroke="#1a1a1a" stroke-width="0.2" textLength="44.6" lengthAdjust="spacingAndGlyphs">ŠTUK / MALBA</text>
<text x="34.2" y="654.22" font-size="8.6" text-anchor="middle" fill="#1a1a1a" stroke="#1a1a1a" stroke-width="0.2" textLength="11.72" lengthAdjust="spacingAndGlyphs">3.15</text>
<text x="84.3" y="654.22" font-size="8.6" text-anchor="middle" fill="#1a1a1a" stroke="#1a1a1a" stroke-width="0.2" textLength="27.41" lengthAdjust="spacingAndGlyphs">CHODBA</text>
<text x="146" y="654.22" font-size="8.6" text-anchor="end" fill="#1a1a1a" stroke="#1a1a1a" stroke-width="0.2" textLength="12.05" lengthAdjust="spacingAndGlyphs">3,67</text>
<text x="182.3" y="654.22" font-size="8.6" text-anchor="middle" fill="#1a1a1a" stroke="#1a1a1a" stroke-width="0.2" textLength="44.6" lengthAdjust="spacingAndGlyphs">ŠTUK / MALBA</text>
<text x="248.6" y="654.22" font-size="8.6" text-anchor="middle" fill="#1a1a1a" stroke="#1a1a1a" stroke-width="0.2" textLength="44.6" lengthAdjust="spacingAndGlyphs">ŠTUK / MALBA</text>
<text x="34.2" y="663.68" font-size="8.6" text-anchor="middle" fill="#1a1a1a" stroke="#1a1a1a" stroke-width="0.2" textLength="11.72" lengthAdjust="spacingAndGlyphs">3.16</text>
<text x="84.3" y="663.68" font-size="8.6" text-anchor="middle" fill="#1a1a1a" stroke="#1a1a1a" stroke-width="0.2" textLength="10.67" lengthAdjust="spacingAndGlyphs">WC</text>
<text x="146" y="663.68" font-size="8.6" text-anchor="end" fill="#1a1a1a" stroke="#1a1a1a" stroke-width="0.2" textLength="12.05" lengthAdjust="spacingAndGlyphs">1,37</text>
<text x="182.3" y="663.68" font-size="8.6" text-anchor="middle" fill="#1a1a1a" stroke="#1a1a1a" stroke-width="0.2" textLength="44.6" lengthAdjust="spacingAndGlyphs">ŠTUK / MALBA</text>
<text x="248.6" y="663.68" font-size="8.6" text-anchor="middle" fill="#1a1a1a" stroke="#1a1a1a" stroke-width="0.2" textLength="44.6" lengthAdjust="spacingAndGlyphs">ŠTUK / MALBA</text>
<text x="34.2" y="673.13" font-size="8.6" text-anchor="middle" fill="#1a1a1a" stroke="#1a1a1a" stroke-width="0.2" textLength="11.72" lengthAdjust="spacingAndGlyphs">3.17</text>
<text x="84.3" y="673.13" font-size="8.6" text-anchor="middle" fill="#1a1a1a" stroke="#1a1a1a" stroke-width="0.2" textLength="26.7" lengthAdjust="spacingAndGlyphs">SPRCHY</text>
<text x="146" y="673.13" font-size="8.6" text-anchor="end" fill="#1a1a1a" stroke="#1a1a1a" stroke-width="0.2" textLength="12.05" lengthAdjust="spacingAndGlyphs">2,82</text>
<text x="182.3" y="673.13" font-size="8.6" text-anchor="middle" fill="#1a1a1a" stroke="#1a1a1a" stroke-width="0.2" textLength="44.6" lengthAdjust="spacingAndGlyphs">ŠTUK / MALBA</text>
<text x="248.6" y="673.13" font-size="8.6" text-anchor="middle" fill="#1a1a1a" stroke="#1a1a1a" stroke-width="0.2" textLength="44.6" lengthAdjust="spacingAndGlyphs">ŠTUK / MALBA</text>
<text x="34.2" y="682.59" font-size="8.6" text-anchor="middle" fill="#1a1a1a" stroke="#1a1a1a" stroke-width="0.2" textLength="11.72" lengthAdjust="spacingAndGlyphs">3.18</text>
<text x="84.3" y="682.59" font-size="8.6" text-anchor="middle" fill="#1a1a1a" stroke="#1a1a1a" stroke-width="0.2" textLength="34.54" lengthAdjust="spacingAndGlyphs">KANCELÁŘ</text>
<text x="146" y="682.59" font-size="8.6" text-anchor="end" fill="#1a1a1a" stroke="#1a1a1a" stroke-width="0.2" textLength="15.49" lengthAdjust="spacingAndGlyphs">22,72</text>
<text x="182.3" y="682.59" font-size="8.6" text-anchor="middle" fill="#1a1a1a" stroke="#1a1a1a" stroke-width="0.2" textLength="44.6" lengthAdjust="spacingAndGlyphs">ŠTUK / MALBA</text>
<text x="248.6" y="682.59" font-size="8.6" text-anchor="middle" fill="#1a1a1a" stroke="#1a1a1a" stroke-width="0.2" textLength="44.6" lengthAdjust="spacingAndGlyphs">ŠTUK / MALBA</text>
<text x="34.2" y="692.04" font-size="8.6" text-anchor="middle" fill="#1a1a1a" stroke="#1a1a1a" stroke-width="0.2" textLength="11.72" lengthAdjust="spacingAndGlyphs">3.19</text>
<text x="84.3" y="692.04" font-size="8.6" text-anchor="middle" fill="#1a1a1a" stroke="#1a1a1a" stroke-width="0.2" textLength="34.54" lengthAdjust="spacingAndGlyphs">KANCELÁŘ</text>
<text x="146" y="692.04" font-size="8.6" text-anchor="end" fill="#1a1a1a" stroke="#1a1a1a" stroke-width="0.2" textLength="15.49" lengthAdjust="spacingAndGlyphs">17,52</text>
<text x="182.3" y="692.04" font-size="8.6" text-anchor="middle" fill="#1a1a1a" stroke="#1a1a1a" stroke-width="0.2" textLength="44.6" lengthAdjust="spacingAndGlyphs">ŠTUK / MALBA</text>
<text x="248.6" y="692.04" font-size="8.6" text-anchor="middle" fill="#1a1a1a" stroke="#1a1a1a" stroke-width="0.2" textLength="44.6" lengthAdjust="spacingAndGlyphs">ŠTUK / MALBA</text>
<text x="34.2" y="701.5" font-size="8.6" text-anchor="middle" fill="#1a1a1a" stroke="#1a1a1a" stroke-width="0.2" textLength="11.72" lengthAdjust="spacingAndGlyphs">3.20</text>
<text x="84.3" y="701.5" font-size="8.6" text-anchor="middle" fill="#1a1a1a" stroke="#1a1a1a" stroke-width="0.2" textLength="34.54" lengthAdjust="spacingAndGlyphs">KANCELÁŘ</text>
<text x="146" y="701.5" font-size="8.6" text-anchor="end" fill="#1a1a1a" stroke="#1a1a1a" stroke-width="0.2" textLength="15.49" lengthAdjust="spacingAndGlyphs">14,47</text>
<text x="182.3" y="701.5" font-size="8.6" text-anchor="middle" fill="#1a1a1a" stroke="#1a1a1a" stroke-width="0.2" textLength="44.6" lengthAdjust="spacingAndGlyphs">ŠTUK / MALBA</text>
<text x="248.6" y="701.5" font-size="8.6" text-anchor="middle" fill="#1a1a1a" stroke="#1a1a1a" stroke-width="0.2" textLength="44.6" lengthAdjust="spacingAndGlyphs">ŠTUK / MALBA</text>
<text x="34.2" y="710.95" font-size="8.6" text-anchor="middle" fill="#1a1a1a" stroke="#1a1a1a" stroke-width="0.2" textLength="11.72" lengthAdjust="spacingAndGlyphs">3.21</text>
<text x="84.3" y="710.95" font-size="8.6" text-anchor="middle" fill="#1a1a1a" stroke="#1a1a1a" stroke-width="0.2" textLength="27.41" lengthAdjust="spacingAndGlyphs">CHODBA</text>
<text x="146" y="710.95" font-size="8.6" text-anchor="end" fill="#1a1a1a" stroke="#1a1a1a" stroke-width="0.2" textLength="12.05" lengthAdjust="spacingAndGlyphs">4,85</text>
<text x="182.3" y="710.95" font-size="8.6" text-anchor="middle" fill="#1a1a1a" stroke="#1a1a1a" stroke-width="0.2" textLength="44.6" lengthAdjust="spacingAndGlyphs">ŠTUK / MALBA</text>
<text x="248.6" y="710.95" font-size="8.6" text-anchor="middle" fill="#1a1a1a" stroke="#1a1a1a" stroke-width="0.2" textLength="44.6" lengthAdjust="spacingAndGlyphs">ŠTUK / MALBA</text>
<text x="34.2" y="720.41" font-size="8.6" text-anchor="middle" fill="#1a1a1a" stroke="#1a1a1a" stroke-width="0.2" textLength="11.72" lengthAdjust="spacingAndGlyphs">3.22</text>
<text x="84.3" y="720.41" font-size="8.6" text-anchor="middle" fill="#1a1a1a" stroke="#1a1a1a" stroke-width="0.2" textLength="37.38" lengthAdjust="spacingAndGlyphs">SCHODIŠTĚ</text>
<text x="146" y="720.41" font-size="8.6" text-anchor="end" fill="#1a1a1a" stroke="#1a1a1a" stroke-width="0.2" textLength="15.49" lengthAdjust="spacingAndGlyphs">12,17</text>
<text x="182.3" y="720.41" font-size="8.6" text-anchor="middle" fill="#1a1a1a" stroke="#1a1a1a" stroke-width="0.2" textLength="44.6" lengthAdjust="spacingAndGlyphs">ŠTUK / MALBA</text>
<text x="248.6" y="720.41" font-size="8.6" text-anchor="middle" fill="#1a1a1a" stroke="#1a1a1a" stroke-width="0.2" textLength="44.6" lengthAdjust="spacingAndGlyphs">ŠTUK / MALBA</text>
<text x="687" y="655.5" font-size="12.8" text-anchor="start" fill="#141414" stroke="#141414" stroke-width="0.4" textLength="90.5" lengthAdjust="spacingAndGlyphs">NÁZEV STAVBY:</text>
<text x="687" y="672.8" font-size="12.8" text-anchor="start" fill="#141414" stroke="#141414" stroke-width="0.4" textLength="320" lengthAdjust="spacingAndGlyphs">PROVOZOVNA  TOVÁRNÍ UL 121/10, 361/25  NOVÁ ROLE,</text>
<text x="687" y="690.2" font-size="12.8" text-anchor="start" fill="#141414" stroke="#141414" stroke-width="0.4" textLength="264.7" lengthAdjust="spacingAndGlyphs">STUPEŇ DOKUMENTACE: PASSPORT STAVBY</text>
<text x="687" y="707.9" font-size="12.8" text-anchor="start" fill="#141414" stroke="#141414" stroke-width="0.4" textLength="43.4" lengthAdjust="spacingAndGlyphs">OBSAH:</text>
<text x="738.4" y="707.9" font-size="12.8" text-anchor="start" fill="#141414" stroke="#141414" stroke-width="0.4" textLength="139" lengthAdjust="spacingAndGlyphs">PŮDORYS 3.NP, M 1:100</text>
<text x="908.5" y="707.9" font-size="12.8" text-anchor="start" fill="#141414" stroke="#141414" stroke-width="0.4" textLength="88.1" lengthAdjust="spacingAndGlyphs">č.výkr.: D.1.1.3.3</text>
<text x="687" y="725.5" font-size="12.8" text-anchor="start" fill="#141414" stroke="#141414" stroke-width="0.4" textLength="44" lengthAdjust="spacingAndGlyphs">DATUM:</text>
<text x="738.9" y="725.5" font-size="12.8" text-anchor="start" fill="#141414" stroke="#141414" stroke-width="0.4" textLength="59.2" lengthAdjust="spacingAndGlyphs">21-07-2025</text>
<path d="M914.7 658.2 L900.7 689.2 L912.6 683 C912.3 674 913.4 665 914.7 658.2 Z" fill="#fff" stroke="#fff" stroke-width="2.6" stroke-linejoin="round"/>
<path d="M921.8 664.2 C923.8 670 923.6 678 920.8 685 L917.4 685.6 C916.8 678 918.4 670 921.8 664.2 Z" fill="#fff" stroke="#fff" stroke-width="2.6" stroke-linejoin="round"/>
<path d="M906 686.2 C910 683.6 915 682.6 919.5 683 L918.2 686.4 C914 686 910 686.6 906 687.6 Z" fill="#fff" stroke="#fff" stroke-width="2.6" stroke-linejoin="round"/>
<path d="M891.5 694.8 C900 690.3 910 690.3 918 691.8 C925 693 930 692 933.3 689.6 C930 693.8 924 695.8 917 694.9 C908 693.8 899 693 891.5 694.8 Z" fill="#fff" stroke="#fff" stroke-width="2.6" stroke-linejoin="round"/>
<path d="M914.7 658.2 L900.7 689.2 L912.6 683 C912.3 674 913.4 665 914.7 658.2 Z" fill="#cfa124" stroke="#cfa124" stroke-width="0.4"/>
<path d="M921.8 664.2 C923.8 670 923.6 678 920.8 685 L917.4 685.6 C916.8 678 918.4 670 921.8 664.2 Z" fill="#cfa124" stroke="#cfa124" stroke-width="0.4"/>
<path d="M906 686.2 C910 683.6 915 682.6 919.5 683 L918.2 686.4 C914 686 910 686.6 906 687.6 Z" fill="#cfa124" stroke="#cfa124" stroke-width="0.4"/>
<path d="M891.5 694.8 C900 690.3 910 690.3 918 691.8 C925 693 930 692 933.3 689.6 C930 693.8 924 695.8 917 694.9 C908 693.8 899 693 891.5 694.8 Z" fill="#cfa124" stroke="#cfa124" stroke-width="0.4"/>
<text x="827" y="708" font-size="10" text-anchor="middle" fill="#c4a030" textLength="124" lengthAdjust="spacingAndGlyphs">INVESTMENTS &amp; REALITY</text>
</svg>
</body></html>
